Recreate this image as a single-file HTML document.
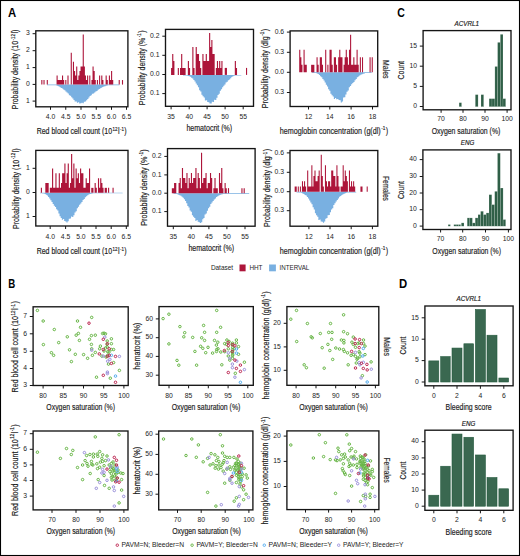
<!DOCTYPE html><html><head><meta charset="utf-8"><style>html,body{margin:0;padding:0;background:#fff;}svg{display:block;}text.t{stroke:#1c1c1c;stroke-width:0.18px;}</style></head><body><svg width="520" height="556" viewBox="0 0 520 556" font-family='"Liberation Sans", sans-serif'>
<rect x="0" y="0" width="520" height="556" fill="#fff"/>
<text x="7.90" y="17.00" font-size="12.6" text-anchor="start" fill="#000" font-weight="bold" textLength="8.2" lengthAdjust="spacingAndGlyphs">A</text>
<text x="8.30" y="287.70" font-size="12.6" text-anchor="start" fill="#000" font-weight="bold" textLength="7.0" lengthAdjust="spacingAndGlyphs">B</text>
<text x="397.30" y="17.10" font-size="12.6" text-anchor="start" fill="#000" font-weight="bold" textLength="7.6" lengthAdjust="spacingAndGlyphs">C</text>
<text x="399.00" y="287.80" font-size="12.6" text-anchor="start" fill="#000" font-weight="bold" textLength="8.2" lengthAdjust="spacingAndGlyphs">D</text>
<path d="M47.00,84.60 L47.00,85.20 L48.15,85.20 L48.15,85.20 L49.30,85.20 L49.30,85.20 L50.45,85.20 L50.45,85.20 L51.60,85.20 L51.60,85.20 L52.75,85.20 L52.75,85.20 L53.90,85.20 L53.90,85.20 L55.05,85.20 L55.05,85.20 L56.20,85.20 L56.20,85.47 L57.35,85.47 L57.35,85.96 L58.50,85.96 L58.50,86.46 L59.65,86.46 L59.65,87.22 L60.80,87.22 L60.80,87.98 L61.95,87.98 L61.95,88.58 L63.10,88.58 L63.10,89.59 L64.25,89.59 L64.25,90.17 L65.40,90.17 L65.40,91.61 L66.55,91.61 L66.55,92.60 L67.70,92.60 L67.70,93.54 L68.85,93.54 L68.85,95.23 L70.00,95.23 L70.00,95.69 L71.15,95.69 L71.15,97.32 L72.30,97.32 L72.30,98.42 L73.45,98.42 L73.45,100.07 L74.60,100.07 L74.60,101.51 L75.75,101.51 L75.75,101.60 L76.90,101.60 L76.90,102.77 L78.05,102.77 L78.05,102.24 L79.20,102.24 L79.20,103.53 L80.35,103.53 L80.35,103.35 L81.50,103.35 L81.50,102.73 L82.65,102.73 L82.65,103.35 L83.80,103.35 L83.80,101.72 L84.95,101.72 L84.95,101.43 L86.10,101.43 L86.10,100.19 L87.25,100.19 L87.25,99.00 L88.40,99.00 L88.40,97.61 L89.55,97.61 L89.55,95.90 L90.70,95.90 L90.70,95.20 L91.85,95.20 L91.85,93.83 L93.00,93.83 L93.00,93.50 L94.15,93.50 L94.15,92.45 L95.30,92.45 L95.30,91.45 L96.45,91.45 L96.45,90.95 L97.60,90.95 L97.60,89.72 L98.75,89.72 L98.75,89.04 L99.90,89.04 L99.90,88.14 L101.05,88.14 L101.05,87.63 L102.20,87.63 L102.20,87.05 L103.35,87.05 L103.35,86.45 L104.50,86.45 L104.50,86.21 L105.65,86.21 L105.65,85.84 L106.80,85.84 L106.80,85.61 L107.95,85.61 L107.95,85.37 L109.10,85.37 L109.10,85.26 L110.25,85.26 L110.25,85.20 L111.40,85.20 L111.40,85.20 L112.55,85.20 L112.55,85.20 L113.70,85.20 L113.70,85.20 L114.85,85.20 L114.85,85.20 L116.00,85.20 L116.00,85.20 L117.15,85.20 L117.15,85.20 L118.30,85.20 L118.30,85.20 L119.45,85.20 L119.30,84.60 Z" fill="#79B0E1"/>
<path d="M41.30,84.60 L41.30,80.05 L42.39,80.05 L42.39,84.60 Z" fill="#AD153A"/>
<path d="M43.48,84.60 L43.48,80.05 L44.57,80.05 L44.57,84.60 Z" fill="#AD153A"/>
<path d="M46.75,84.60 L46.75,80.05 L47.84,80.05 L47.84,84.60 Z" fill="#AD153A"/>
<path d="M56.56,84.60 L56.56,75.50 L57.65,75.50 L57.65,80.05 L58.74,80.05 L58.74,80.05 L59.83,80.05 L59.83,80.05 L60.92,80.05 L60.92,80.05 L62.01,80.05 L62.01,75.50 L63.10,75.50 L63.10,80.05 L64.19,80.05 L64.19,84.60 Z" fill="#AD153A"/>
<path d="M65.28,84.60 L65.28,80.05 L66.37,80.05 L66.37,84.60 Z" fill="#AD153A"/>
<path d="M67.45,84.60 L67.45,75.50 L68.55,75.50 L68.55,84.60 Z" fill="#AD153A"/>
<path d="M70.73,84.60 L70.73,52.75 L71.82,52.75 L71.82,84.60 Z" fill="#AD153A"/>
<path d="M72.91,84.60 L72.91,61.85 L74.00,61.85 L74.00,70.95 L75.09,70.95 L75.09,75.50 L76.18,75.50 L76.18,66.40 L77.27,66.40 L77.27,80.05 L78.36,80.05 L78.36,75.50 L79.45,75.50 L79.45,70.95 L80.54,70.95 L80.54,66.40 L81.63,66.40 L81.62,66.40 L82.72,66.40 L82.72,34.55 L83.81,34.55 L83.81,66.40 L84.90,66.40 L84.90,75.50 L85.99,75.50 L85.98,80.05 L87.08,80.05 L87.08,75.50 L88.17,75.50 L88.17,84.60 Z" fill="#AD153A"/>
<path d="M89.26,84.60 L89.26,75.50 L90.35,75.50 L90.35,84.60 Z" fill="#AD153A"/>
<path d="M91.44,84.60 L91.44,80.05 L92.53,80.05 L92.53,66.40 L93.62,66.40 L93.62,70.95 L94.71,70.95 L94.71,80.05 L95.80,80.05 L95.80,84.60 Z" fill="#AD153A"/>
<path d="M96.89,84.60 L96.89,80.05 L97.98,80.05 L97.98,84.60 Z" fill="#AD153A"/>
<path d="M99.07,84.60 L99.07,75.50 L100.16,75.50 L100.16,84.60 Z" fill="#AD153A"/>
<path d="M101.25,84.60 L101.25,75.50 L102.34,75.50 L102.34,80.05 L103.43,80.05 L103.43,84.60 Z" fill="#AD153A"/>
<path d="M105.61,84.60 L105.61,75.50 L106.70,75.50 L106.70,80.05 L107.79,80.05 L107.79,84.60 Z" fill="#AD153A"/>
<path d="M108.88,84.60 L108.88,75.50 L109.97,75.50 L109.97,80.05 L111.06,80.05 L111.06,70.95 L112.15,70.95 L112.15,80.05 L113.24,80.05 L113.24,84.60 Z" fill="#AD153A"/>
<path d="M118.69,84.60 L118.69,80.05 L119.78,80.05 L119.78,84.60 Z" fill="#AD153A"/>
<path d="M121.96,84.60 L121.96,80.05 L123.05,80.05 L123.05,84.60 Z" fill="#AD153A"/>
<rect x="35.80" y="30.80" width="92.10" height="76.00" fill="none" stroke="#151515" stroke-width="1.35"/>
<line x1="32.60" y1="33.70" x2="35.80" y2="33.70" stroke="#151515" stroke-width="1"/>
<text x="29.80" y="35.45" font-size="6.8" text-anchor="end" fill="#1c1c1c">3</text>
<line x1="32.60" y1="50.70" x2="35.80" y2="50.70" stroke="#151515" stroke-width="1"/>
<text x="29.80" y="52.45" font-size="6.8" text-anchor="end" fill="#1c1c1c">2</text>
<line x1="32.60" y1="67.60" x2="35.80" y2="67.60" stroke="#151515" stroke-width="1"/>
<text x="29.80" y="69.35" font-size="6.8" text-anchor="end" fill="#1c1c1c">1</text>
<line x1="32.60" y1="84.40" x2="35.80" y2="84.40" stroke="#151515" stroke-width="1"/>
<text x="29.80" y="86.15" font-size="6.8" text-anchor="end" fill="#1c1c1c">0</text>
<line x1="32.60" y1="101.10" x2="35.80" y2="101.10" stroke="#151515" stroke-width="1"/>
<text x="29.80" y="102.85" font-size="6.8" text-anchor="end" fill="#1c1c1c">1</text>
<line x1="50.50" y1="106.80" x2="50.50" y2="109.80" stroke="#151515" stroke-width="1"/>
<text x="50.50" y="118.70" font-size="6.8" text-anchor="middle" fill="#1c1c1c">4.0</text>
<line x1="65.75" y1="106.80" x2="65.75" y2="109.80" stroke="#151515" stroke-width="1"/>
<text x="65.75" y="118.70" font-size="6.8" text-anchor="middle" fill="#1c1c1c">4.5</text>
<line x1="81.00" y1="106.80" x2="81.00" y2="109.80" stroke="#151515" stroke-width="1"/>
<text x="81.00" y="118.70" font-size="6.8" text-anchor="middle" fill="#1c1c1c">5.0</text>
<line x1="96.25" y1="106.80" x2="96.25" y2="109.80" stroke="#151515" stroke-width="1"/>
<text x="96.25" y="118.70" font-size="6.8" text-anchor="middle" fill="#1c1c1c">5.5</text>
<line x1="111.50" y1="106.80" x2="111.50" y2="109.80" stroke="#151515" stroke-width="1"/>
<text x="111.50" y="118.70" font-size="6.8" text-anchor="middle" fill="#1c1c1c">6.0</text>
<line x1="126.50" y1="106.80" x2="126.50" y2="109.80" stroke="#151515" stroke-width="1"/>
<text x="126.50" y="118.70" font-size="6.8" text-anchor="middle" fill="#1c1c1c">6.5</text>
<text class="t" transform="translate(18.40,69.50) rotate(-90)" x="0" y="0" font-size="9.6" text-anchor="middle" fill="#1c1c1c" textLength="79.5" lengthAdjust="spacingAndGlyphs">Probability density (10<tspan font-size="6.2" dy="-3.4" dx="0.7">-12</tspan><tspan dy="3.4" dx="0.5">l)</tspan></text>
<text class="t" x="81.70" y="134.20" font-size="9.6" text-anchor="middle" fill="#1c1c1c" textLength="90.0" lengthAdjust="spacingAndGlyphs">Red blood cell count (10<tspan font-size="6.2" dy="-3.4" dx="0.7">12</tspan><tspan dy="3.4" dx="0.5">l</tspan><tspan font-size="6.2" dy="-3.4" dx="0.7">-1</tspan><tspan dy="3.4" dx="0.5">)</tspan></text>
<path d="M183.00,74.90 L183.00,75.50 L184.15,75.50 L184.15,75.50 L185.30,75.50 L185.30,75.50 L186.45,75.50 L186.45,75.60 L187.60,75.60 L187.60,75.95 L188.75,75.95 L188.75,76.23 L189.90,76.23 L189.90,76.72 L191.05,76.72 L191.05,77.71 L192.20,77.71 L192.20,78.50 L193.35,78.50 L193.35,80.10 L194.50,80.10 L194.50,81.48 L195.65,81.48 L195.65,83.38 L196.80,83.38 L196.80,85.22 L197.95,85.22 L197.95,87.17 L199.10,87.17 L199.10,90.24 L200.25,90.24 L200.25,91.58 L201.40,91.58 L201.40,94.67 L202.55,94.67 L202.55,96.16 L203.70,96.16 L203.70,97.45 L204.85,97.45 L204.85,100.44 L206.00,100.44 L206.00,100.32 L207.15,100.32 L207.15,102.10 L208.30,102.10 L208.30,102.28 L209.45,102.28 L209.45,103.56 L210.60,103.56 L210.60,103.59 L211.75,103.59 L211.75,101.78 L212.90,101.78 L212.90,101.98 L214.05,101.98 L214.05,99.63 L215.20,99.63 L215.20,99.99 L216.35,99.99 L216.35,97.66 L217.50,97.66 L217.50,94.94 L218.65,94.94 L218.65,93.79 L219.80,93.79 L219.80,90.64 L220.95,90.64 L220.95,89.23 L222.10,89.23 L222.10,87.30 L223.25,87.30 L223.25,85.87 L224.40,85.87 L224.40,84.49 L225.55,84.49 L225.55,82.60 L226.70,82.60 L226.70,81.68 L227.85,81.68 L227.85,80.23 L229.00,80.23 L229.00,79.38 L230.15,79.38 L230.15,78.14 L231.30,78.14 L231.30,77.10 L232.45,77.10 L232.45,76.34 L233.60,76.34 L233.60,75.67 L234.75,75.67 L234.75,75.55 L235.90,75.55 L235.90,75.50 L237.05,75.50 L237.05,75.50 L238.20,75.50 L238.20,75.50 L239.35,75.50 L239.35,75.50 L240.50,75.50 L240.50,75.50 L241.65,75.50 L241.00,74.90 Z" fill="#79B0E1"/>
<path d="M171.07,74.90 L171.07,67.90 L172.19,67.90 L172.19,53.90 L173.31,53.90 L173.31,60.90 L174.43,60.90 L174.43,74.90 Z" fill="#AD153A"/>
<path d="M177.78,74.90 L177.78,67.90 L178.90,67.90 L178.90,74.90 Z" fill="#AD153A"/>
<path d="M180.02,74.90 L180.02,67.90 L181.14,67.90 L181.14,53.90 L182.25,53.90 L182.25,67.90 L183.37,67.90 L183.37,67.90 L184.49,67.90 L184.49,67.90 L185.61,67.90 L185.61,74.90 Z" fill="#AD153A"/>
<path d="M187.84,74.90 L187.84,60.90 L188.96,60.90 L188.96,67.90 L190.08,67.90 L190.08,74.90 Z" fill="#AD153A"/>
<path d="M192.32,74.90 L192.32,46.90 L193.44,46.90 L193.44,67.90 L194.55,67.90 L194.55,74.90 Z" fill="#AD153A"/>
<path d="M195.67,74.90 L195.67,46.90 L196.79,46.90 L196.79,53.90 L197.91,53.90 L197.91,53.90 L199.03,53.90 L199.03,60.90 L200.14,60.90 L200.14,67.90 L201.26,67.90 L201.26,74.90 Z" fill="#AD153A"/>
<path d="M202.38,74.90 L202.38,53.90 L203.50,53.90 L203.50,60.90 L204.62,60.90 L204.62,60.90 L205.73,60.90 L205.73,53.90 L206.85,53.90 L206.85,60.90 L207.97,60.90 L207.97,60.90 L209.09,60.90 L209.09,32.90 L210.21,32.90 L210.21,46.90 L211.32,46.90 L211.32,39.90 L212.44,39.90 L212.44,53.90 L213.56,53.90 L213.56,53.90 L214.68,53.90 L214.68,74.90 Z" fill="#AD153A"/>
<path d="M215.80,74.90 L215.80,67.90 L216.91,67.90 L216.91,60.90 L218.03,60.90 L218.03,67.90 L219.15,67.90 L219.15,60.90 L220.27,60.90 L220.27,67.90 L221.38,67.90 L221.39,60.90 L222.50,60.90 L222.50,74.90 Z" fill="#AD153A"/>
<path d="M224.74,74.90 L224.74,67.90 L225.86,67.90 L225.86,67.90 L226.97,67.90 L226.97,74.90 Z" fill="#AD153A"/>
<path d="M234.80,74.90 L234.80,60.90 L235.92,60.90 L235.92,67.90 L237.04,67.90 L237.04,74.90 Z" fill="#AD153A"/>
<path d="M245.98,74.90 L245.98,67.90 L247.10,67.90 L247.10,74.90 Z" fill="#AD153A"/>
<rect x="165.50" y="29.40" width="88.00" height="76.90" fill="none" stroke="#151515" stroke-width="1.35"/>
<line x1="162.30" y1="36.20" x2="165.50" y2="36.20" stroke="#151515" stroke-width="1"/>
<text x="159.50" y="37.95" font-size="6.8" text-anchor="end" fill="#1c1c1c">0.2</text>
<line x1="162.30" y1="55.30" x2="165.50" y2="55.30" stroke="#151515" stroke-width="1"/>
<text x="159.50" y="57.05" font-size="6.8" text-anchor="end" fill="#1c1c1c">0.1</text>
<line x1="162.30" y1="74.50" x2="165.50" y2="74.50" stroke="#151515" stroke-width="1"/>
<text x="159.50" y="76.25" font-size="6.8" text-anchor="end" fill="#1c1c1c">0.0</text>
<line x1="162.30" y1="93.60" x2="165.50" y2="93.60" stroke="#151515" stroke-width="1"/>
<text x="159.50" y="95.35" font-size="6.8" text-anchor="end" fill="#1c1c1c">0.1</text>
<line x1="171.10" y1="106.30" x2="171.10" y2="109.30" stroke="#151515" stroke-width="1"/>
<text x="171.10" y="118.70" font-size="6.8" text-anchor="middle" fill="#1c1c1c">35</text>
<line x1="189.20" y1="106.30" x2="189.20" y2="109.30" stroke="#151515" stroke-width="1"/>
<text x="189.20" y="118.70" font-size="6.8" text-anchor="middle" fill="#1c1c1c">40</text>
<line x1="207.10" y1="106.30" x2="207.10" y2="109.30" stroke="#151515" stroke-width="1"/>
<text x="207.10" y="118.70" font-size="6.8" text-anchor="middle" fill="#1c1c1c">45</text>
<line x1="225.10" y1="106.30" x2="225.10" y2="109.30" stroke="#151515" stroke-width="1"/>
<text x="225.10" y="118.70" font-size="6.8" text-anchor="middle" fill="#1c1c1c">50</text>
<line x1="243.20" y1="106.30" x2="243.20" y2="109.30" stroke="#151515" stroke-width="1"/>
<text x="243.20" y="118.70" font-size="6.8" text-anchor="middle" fill="#1c1c1c">55</text>
<text class="t" transform="translate(144.50,67.80) rotate(-90)" x="0" y="0" font-size="9.6" text-anchor="middle" fill="#1c1c1c" textLength="74.8" lengthAdjust="spacingAndGlyphs">Probability density (%<tspan font-size="6.2" dy="-3.4" dx="0.7">-1</tspan><tspan dy="3.4" dx="0.5">)</tspan></text>
<text class="t" x="209.30" y="131.30" font-size="9.6" text-anchor="middle" fill="#1c1c1c" textLength="45.8" lengthAdjust="spacingAndGlyphs">hematocrit (%)</text>
<path d="M312.00,72.30 L312.00,72.90 L313.15,72.90 L313.15,72.90 L314.30,72.90 L314.30,72.90 L315.45,72.90 L315.45,73.12 L316.60,73.12 L316.60,73.58 L317.75,73.58 L317.75,73.95 L318.90,73.95 L318.90,74.93 L320.05,74.93 L320.05,76.28 L321.20,76.28 L321.20,77.32 L322.35,77.32 L322.35,79.02 L323.50,79.02 L323.50,80.50 L324.65,80.50 L324.65,82.61 L325.80,82.61 L325.80,84.81 L326.95,84.81 L326.95,86.46 L328.10,86.46 L328.10,89.30 L329.25,89.30 L329.25,90.68 L330.40,90.68 L330.40,93.85 L331.55,93.85 L331.55,95.32 L332.70,95.32 L332.70,96.39 L333.85,96.39 L333.85,98.95 L335.00,98.95 L335.00,97.98 L336.15,97.98 L336.15,99.28 L337.30,99.28 L337.30,99.05 L338.45,99.05 L338.45,99.91 L339.60,99.91 L339.60,100.35 L340.75,100.35 L340.75,102.39 L341.90,102.39 L341.90,101.56 L343.05,101.56 L343.05,97.44 L344.20,97.44 L344.20,97.36 L345.35,97.36 L345.35,94.56 L346.50,94.56 L346.50,91.83 L347.65,91.83 L347.65,90.47 L348.80,90.47 L348.80,87.35 L349.95,87.35 L349.95,86.07 L351.10,86.07 L351.10,84.26 L352.25,84.26 L352.25,82.98 L353.40,82.98 L353.40,81.90 L354.55,81.90 L354.55,80.20 L355.70,80.20 L355.70,78.91 L356.85,78.91 L356.85,77.29 L358.00,77.29 L358.00,76.43 L359.15,76.43 L359.15,75.50 L360.30,75.50 L360.30,74.68 L361.45,74.68 L361.45,74.21 L362.60,74.21 L362.60,73.73 L363.75,73.73 L363.75,73.42 L364.90,73.42 L364.90,73.04 L366.05,73.04 L366.05,72.91 L367.20,72.91 L367.20,72.90 L368.35,72.90 L368.35,72.90 L369.50,72.90 L369.50,72.90 L370.65,72.90 L370.65,72.90 L371.80,72.90 L371.50,72.30 Z" fill="#79B0E1"/>
<path d="M299.21,72.30 L299.21,49.80 L300.30,49.80 L300.30,57.30 L301.38,57.30 L301.38,64.80 L302.46,64.80 L302.46,72.30 Z" fill="#AD153A"/>
<path d="M303.54,72.30 L303.54,49.80 L304.62,49.80 L304.62,64.80 L305.71,64.80 L305.71,64.80 L306.79,64.80 L306.79,72.30 Z" fill="#AD153A"/>
<path d="M311.12,72.30 L311.12,64.80 L312.20,64.80 L312.20,64.80 L313.28,64.80 L313.28,64.80 L314.36,64.80 L314.36,72.30 Z" fill="#AD153A"/>
<path d="M316.53,72.30 L316.53,57.30 L317.61,57.30 L317.61,64.80 L318.69,64.80 L318.69,72.30 Z" fill="#AD153A"/>
<path d="M319.77,72.30 L319.77,57.30 L320.85,57.30 L320.85,57.30 L321.94,57.30 L321.94,64.80 L323.02,64.80 L323.02,72.30 Z" fill="#AD153A"/>
<path d="M325.18,72.30 L325.18,49.80 L326.26,49.80 L326.26,72.30 Z" fill="#AD153A"/>
<path d="M327.35,72.30 L327.35,64.80 L328.43,64.80 L328.43,72.30 Z" fill="#AD153A"/>
<path d="M329.51,72.30 L329.51,49.80 L330.59,49.80 L330.59,49.80 L331.67,49.80 L331.67,64.80 L332.76,64.80 L332.76,72.30 Z" fill="#AD153A"/>
<path d="M333.84,72.30 L333.84,57.30 L334.92,57.30 L334.92,57.30 L336.00,57.30 L336.00,64.80 L337.08,64.80 L337.08,72.30 Z" fill="#AD153A"/>
<path d="M338.17,72.30 L338.17,57.30 L339.25,57.30 L339.25,49.80 L340.33,49.80 L340.33,57.30 L341.41,57.30 L341.41,57.30 L342.49,57.30 L342.49,72.30 Z" fill="#AD153A"/>
<path d="M343.58,72.30 L343.58,64.80 L344.66,64.80 L344.66,57.30 L345.74,57.30 L345.74,49.80 L346.82,49.80 L346.82,57.30 L347.90,57.30 L347.90,64.80 L348.99,64.80 L348.99,49.80 L350.07,49.80 L350.07,34.80 L351.15,34.80 L351.15,64.80 L352.23,64.80 L352.23,64.80 L353.31,64.80 L353.31,57.30 L354.40,57.30 L354.40,64.80 L355.48,64.80 L355.48,64.80 L356.56,64.80 L356.56,49.80 L357.64,49.80 L357.64,64.80 L358.72,64.80 L358.72,72.30 Z" fill="#AD153A"/>
<path d="M359.81,72.30 L359.81,57.30 L360.89,57.30 L360.89,72.30 Z" fill="#AD153A"/>
<path d="M361.97,72.30 L361.97,57.30 L363.05,57.30 L363.05,72.30 Z" fill="#AD153A"/>
<path d="M369.54,72.30 L369.54,57.30 L370.63,57.30 L370.63,72.30 Z" fill="#AD153A"/>
<path d="M371.71,72.30 L371.71,57.30 L372.79,57.30 L372.79,72.30 Z" fill="#AD153A"/>
<rect x="290.10" y="30.90" width="87.60" height="75.60" fill="none" stroke="#151515" stroke-width="1.35"/>
<line x1="286.90" y1="32.10" x2="290.10" y2="32.10" stroke="#151515" stroke-width="1"/>
<text x="284.10" y="33.85" font-size="6.8" text-anchor="end" fill="#1c1c1c">0.6</text>
<line x1="286.90" y1="52.30" x2="290.10" y2="52.30" stroke="#151515" stroke-width="1"/>
<text x="284.10" y="54.05" font-size="6.8" text-anchor="end" fill="#1c1c1c">0.3</text>
<line x1="286.90" y1="72.30" x2="290.10" y2="72.30" stroke="#151515" stroke-width="1"/>
<text x="284.10" y="74.05" font-size="6.8" text-anchor="end" fill="#1c1c1c">0.0</text>
<line x1="286.90" y1="92.50" x2="290.10" y2="92.50" stroke="#151515" stroke-width="1"/>
<text x="284.10" y="94.25" font-size="6.8" text-anchor="end" fill="#1c1c1c">0.3</text>
<line x1="308.50" y1="106.50" x2="308.50" y2="109.50" stroke="#151515" stroke-width="1"/>
<text x="308.50" y="118.70" font-size="6.8" text-anchor="middle" fill="#1c1c1c">12</text>
<line x1="329.80" y1="106.50" x2="329.80" y2="109.50" stroke="#151515" stroke-width="1"/>
<text x="329.80" y="118.70" font-size="6.8" text-anchor="middle" fill="#1c1c1c">14</text>
<line x1="351.10" y1="106.50" x2="351.10" y2="109.50" stroke="#151515" stroke-width="1"/>
<text x="351.10" y="118.70" font-size="6.8" text-anchor="middle" fill="#1c1c1c">16</text>
<line x1="372.50" y1="106.50" x2="372.50" y2="109.50" stroke="#151515" stroke-width="1"/>
<text x="372.50" y="118.70" font-size="6.8" text-anchor="middle" fill="#1c1c1c">18</text>
<text class="t" transform="translate(267.80,68.60) rotate(-90)" x="0" y="0" font-size="9.6" text-anchor="middle" fill="#1c1c1c" textLength="79.3" lengthAdjust="spacingAndGlyphs">Probability density (dlg<tspan font-size="6.2" dy="-3.4" dx="0.7">-1</tspan><tspan dy="3.4" dx="0.5">)</tspan></text>
<text class="t" x="334.00" y="133.80" font-size="9.6" text-anchor="middle" fill="#1c1c1c" textLength="108.3" lengthAdjust="spacingAndGlyphs">hemoglobin concentration (g(dl)<tspan font-size="6.2" dy="-3.4" dx="0.7">-1</tspan><tspan dy="3.4" dx="0.5">)</tspan></text>
<text class="t" transform="translate(383.4,59.9) rotate(90)" x="0" y="0" font-size="8.3" text-anchor="start" fill="#383838" textLength="18.6" lengthAdjust="spacingAndGlyphs">Males</text>
<path d="M40.00,192.70 L40.00,193.30 L41.15,193.30 L41.15,193.30 L42.30,193.30 L42.30,193.38 L43.45,193.38 L43.45,193.62 L44.60,193.62 L44.60,193.97 L45.75,193.97 L45.75,194.73 L46.90,194.73 L46.90,195.57 L48.05,195.57 L48.05,197.04 L49.20,197.04 L49.20,198.43 L50.35,198.43 L50.35,200.36 L51.50,200.36 L51.50,201.94 L52.65,201.94 L52.65,203.91 L53.80,203.91 L53.80,205.81 L54.95,205.81 L54.95,206.89 L56.10,206.89 L56.10,209.27 L57.25,209.27 L57.25,210.39 L58.40,210.39 L58.40,213.61 L59.55,213.61 L59.55,216.33 L60.70,216.33 L60.70,218.03 L61.85,218.03 L61.85,219.80 L63.00,219.80 L63.00,218.94 L64.15,218.94 L64.15,221.10 L65.30,221.10 L65.30,221.61 L66.45,221.61 L66.45,222.56 L67.60,222.56 L67.60,221.30 L68.75,221.30 L68.75,218.74 L69.90,218.74 L69.90,218.56 L71.05,218.56 L71.05,216.51 L72.20,216.51 L72.20,217.05 L73.35,217.05 L73.35,215.25 L74.50,215.25 L74.50,212.48 L75.65,212.48 L75.65,211.30 L76.80,211.30 L76.80,208.19 L77.95,208.19 L77.95,206.75 L79.10,206.75 L79.10,204.85 L80.25,204.85 L80.25,203.42 L81.40,203.42 L81.40,201.97 L82.55,201.97 L82.55,200.10 L83.70,200.10 L83.70,198.91 L84.85,198.91 L84.85,197.25 L86.00,197.25 L86.00,196.14 L87.15,196.14 L87.15,195.33 L88.30,195.33 L88.30,194.56 L89.45,194.56 L89.45,193.99 L90.60,193.99 L90.60,193.64 L91.75,193.64 L91.75,193.39 L92.90,193.39 L92.90,193.30 L94.05,193.30 L94.05,193.30 L95.20,193.30 L95.20,193.30 L96.35,193.30 L96.35,193.30 L97.50,193.30 L97.50,193.30 L98.65,193.30 L98.65,193.30 L99.80,193.30 L99.80,193.30 L100.95,193.30 L100.95,193.30 L102.10,193.30 L102.10,193.30 L103.25,193.30 L103.25,193.30 L104.40,193.30 L104.40,193.30 L105.55,193.30 L105.55,193.30 L106.70,193.30 L106.70,193.30 L107.85,193.30 L107.85,193.30 L109.00,193.30 L109.00,193.30 L110.15,193.30 L110.15,193.30 L111.30,193.30 L111.30,193.30 L112.45,193.30 L112.45,193.30 L113.60,193.30 L113.60,193.30 L114.75,193.30 L114.75,193.30 L115.90,193.30 L115.90,193.30 L117.05,193.30 L117.05,193.30 L118.20,193.30 L118.20,193.30 L119.35,193.30 L119.35,193.30 L120.50,193.30 L120.50,193.30 L121.65,193.30 L121.65,193.30 L122.80,193.30 L122.50,192.70 Z" fill="#79B0E1"/>
<path d="M40.84,192.70 L40.84,187.85 L41.96,187.85 L41.96,192.70 Z" fill="#AD153A"/>
<path d="M45.32,192.70 L45.32,183.00 L46.44,183.00 L46.44,183.00 L47.56,183.00 L47.56,183.00 L48.68,183.00 L48.68,192.70 Z" fill="#AD153A"/>
<path d="M49.80,192.70 L49.80,187.85 L50.92,187.85 L50.92,187.85 L52.04,187.85 L52.04,168.45 L53.16,168.45 L53.16,187.85 L54.28,187.85 L54.28,187.85 L55.40,187.85 L55.40,173.30 L56.52,173.30 L56.52,187.85 L57.64,187.85 L57.64,187.85 L58.76,187.85 L58.76,173.30 L59.88,173.30 L59.88,187.85 L61.00,187.85 L61.00,183.00 L62.12,183.00 L62.12,173.30 L63.24,173.30 L63.24,173.30 L64.36,173.30 L64.36,163.60 L65.48,163.60 L65.48,183.00 L66.60,183.00 L66.60,173.30 L67.72,173.30 L67.72,163.60 L68.84,163.60 L68.84,187.85 L69.96,187.85 L69.96,183.00 L71.08,183.00 L71.08,153.90 L72.20,153.90 L72.20,178.15 L73.32,178.15 L73.32,163.60 L74.44,163.60 L74.44,187.85 L75.56,187.85 L75.56,168.45 L76.68,168.45 L76.68,178.15 L77.80,178.15 L77.80,173.30 L78.92,173.30 L78.92,183.00 L80.04,183.00 L80.04,168.45 L81.16,168.45 L81.16,173.30 L82.28,173.30 L82.28,173.30 L83.40,173.30 L83.40,187.85 L84.52,187.85 L84.52,187.85 L85.64,187.85 L85.64,178.15 L86.76,178.15 L86.76,183.00 L87.88,183.00 L87.88,183.00 L89.00,183.00 L89.00,168.45 L90.12,168.45 L90.12,192.70 Z" fill="#AD153A"/>
<path d="M91.24,192.70 L91.24,187.85 L92.36,187.85 L92.36,187.85 L93.48,187.85 L93.48,192.70 Z" fill="#AD153A"/>
<path d="M94.60,192.70 L94.60,183.00 L95.72,183.00 L95.72,187.85 L96.84,187.85 L96.84,192.70 Z" fill="#AD153A"/>
<path d="M97.96,192.70 L97.96,178.15 L99.08,178.15 L99.08,187.85 L100.20,187.85 L100.20,178.15 L101.32,178.15 L101.32,183.00 L102.44,183.00 L102.44,187.85 L103.56,187.85 L103.56,192.70 Z" fill="#AD153A"/>
<path d="M104.68,192.70 L104.68,187.85 L105.80,187.85 L105.80,187.85 L106.92,187.85 L106.92,192.70 Z" fill="#AD153A"/>
<path d="M108.04,192.70 L108.04,187.85 L109.16,187.85 L109.16,192.70 Z" fill="#AD153A"/>
<path d="M112.52,192.70 L112.52,187.85 L113.64,187.85 L113.64,192.70 Z" fill="#AD153A"/>
<rect x="35.80" y="150.40" width="92.20" height="75.60" fill="none" stroke="#151515" stroke-width="1.35"/>
<line x1="32.60" y1="168.30" x2="35.80" y2="168.30" stroke="#151515" stroke-width="1"/>
<text x="29.80" y="170.05" font-size="6.8" text-anchor="end" fill="#1c1c1c">1</text>
<line x1="32.60" y1="192.50" x2="35.80" y2="192.50" stroke="#151515" stroke-width="1"/>
<text x="29.80" y="194.25" font-size="6.8" text-anchor="end" fill="#1c1c1c">0</text>
<line x1="32.60" y1="216.50" x2="35.80" y2="216.50" stroke="#151515" stroke-width="1"/>
<text x="29.80" y="218.25" font-size="6.8" text-anchor="end" fill="#1c1c1c">1</text>
<line x1="50.20" y1="226.00" x2="50.20" y2="229.00" stroke="#151515" stroke-width="1"/>
<text x="50.20" y="238.60" font-size="6.8" text-anchor="middle" fill="#1c1c1c">4.0</text>
<line x1="65.60" y1="226.00" x2="65.60" y2="229.00" stroke="#151515" stroke-width="1"/>
<text x="65.60" y="238.60" font-size="6.8" text-anchor="middle" fill="#1c1c1c">4.5</text>
<line x1="80.90" y1="226.00" x2="80.90" y2="229.00" stroke="#151515" stroke-width="1"/>
<text x="80.90" y="238.60" font-size="6.8" text-anchor="middle" fill="#1c1c1c">5.0</text>
<line x1="96.00" y1="226.00" x2="96.00" y2="229.00" stroke="#151515" stroke-width="1"/>
<text x="96.00" y="238.60" font-size="6.8" text-anchor="middle" fill="#1c1c1c">5.5</text>
<line x1="111.20" y1="226.00" x2="111.20" y2="229.00" stroke="#151515" stroke-width="1"/>
<text x="111.20" y="238.60" font-size="6.8" text-anchor="middle" fill="#1c1c1c">6.0</text>
<line x1="126.30" y1="226.00" x2="126.30" y2="229.00" stroke="#151515" stroke-width="1"/>
<text x="126.30" y="238.60" font-size="6.8" text-anchor="middle" fill="#1c1c1c">6.5</text>
<text class="t" transform="translate(18.50,188.70) rotate(-90)" x="0" y="0" font-size="9.6" text-anchor="middle" fill="#1c1c1c" textLength="80.5" lengthAdjust="spacingAndGlyphs">Probability density (10<tspan font-size="6.2" dy="-3.4" dx="0.7">-12</tspan><tspan dy="3.4" dx="0.5">l)</tspan></text>
<text class="t" x="81.70" y="254.00" font-size="9.6" text-anchor="middle" fill="#1c1c1c" textLength="90.0" lengthAdjust="spacingAndGlyphs">Red blood cell count (10<tspan font-size="6.2" dy="-3.4" dx="0.7">12</tspan><tspan dy="3.4" dx="0.5">l</tspan><tspan font-size="6.2" dy="-3.4" dx="0.7">-1</tspan><tspan dy="3.4" dx="0.5">)</tspan></text>
<path d="M173.50,193.30 L173.50,193.90 L174.65,193.90 L174.65,193.90 L175.80,193.90 L175.80,194.06 L176.95,194.06 L176.95,194.32 L178.10,194.32 L178.10,194.70 L179.25,194.70 L179.25,195.24 L180.40,195.24 L180.40,195.79 L181.55,195.79 L181.55,196.84 L182.70,196.84 L182.70,197.70 L183.85,197.70 L183.85,199.14 L185.00,199.14 L185.00,201.00 L186.15,201.00 L186.15,203.37 L187.30,203.37 L187.30,205.90 L188.45,205.90 L188.45,207.56 L189.60,207.56 L189.60,210.40 L190.75,210.40 L190.75,211.78 L191.90,211.78 L191.90,215.20 L193.05,215.20 L193.05,216.74 L194.20,216.74 L194.20,217.96 L195.35,217.96 L195.35,220.88 L196.50,220.88 L196.50,220.12 L197.65,220.12 L197.65,221.83 L198.80,221.83 L198.80,222.19 L199.95,222.19 L199.95,222.88 L201.10,222.88 L201.10,222.33 L202.25,222.33 L202.25,219.15 L203.40,219.15 L203.40,218.10 L204.55,218.10 L204.55,214.61 L205.70,214.61 L205.70,213.54 L206.85,213.54 L206.85,210.84 L208.00,210.84 L208.00,208.22 L209.15,208.22 L209.15,206.67 L210.30,206.67 L210.30,203.93 L211.45,203.93 L211.45,202.48 L212.60,202.48 L212.60,200.90 L213.75,200.90 L213.75,199.62 L214.90,199.62 L214.90,198.48 L216.05,198.48 L216.05,197.10 L217.20,197.10 L217.20,196.35 L218.35,196.35 L218.35,195.55 L219.50,195.55 L219.50,194.99 L220.65,194.99 L220.65,194.54 L221.80,194.54 L221.80,194.26 L222.95,194.26 L222.95,194.05 L224.10,194.05 L224.10,193.90 L225.25,193.90 L225.25,193.90 L226.40,193.90 L226.40,193.90 L227.55,193.90 L227.55,193.90 L228.70,193.90 L228.70,193.90 L229.85,193.90 L229.85,193.90 L231.00,193.90 L231.00,193.90 L232.15,193.90 L232.15,193.90 L233.30,193.90 L233.30,193.90 L234.45,193.90 L234.45,193.90 L235.60,193.90 L235.60,193.90 L236.75,193.90 L236.75,193.90 L237.90,193.90 L237.90,193.90 L239.05,193.90 L239.05,193.90 L240.20,193.90 L240.20,193.90 L241.35,193.90 L241.35,193.90 L242.50,193.90 L242.50,193.90 L243.65,193.90 L243.65,193.90 L244.80,193.90 L244.80,193.90 L245.95,193.90 L245.95,193.90 L247.10,193.90 L247.10,193.90 L248.25,193.90 L248.25,193.90 L249.40,193.90 L249.00,193.30 Z" fill="#79B0E1"/>
<path d="M171.83,193.20 L171.83,188.15 L172.95,188.15 L172.95,188.15 L174.07,188.15 L174.07,183.10 L175.19,183.10 L175.19,183.10 L176.31,183.10 L176.31,193.20 Z" fill="#AD153A"/>
<path d="M178.56,193.20 L178.56,183.10 L179.68,183.10 L179.68,178.05 L180.80,178.05 L180.80,188.15 L181.92,188.15 L181.92,167.95 L183.05,167.95 L183.05,178.05 L184.17,178.05 L184.17,178.05 L185.29,178.05 L185.29,183.10 L186.41,183.10 L186.41,173.00 L187.53,173.00 L187.53,188.15 L188.66,188.15 L188.66,178.05 L189.78,178.05 L189.78,183.10 L190.90,183.10 L190.90,173.00 L192.02,173.00 L192.02,183.10 L193.14,183.10 L193.14,178.05 L194.27,178.05 L194.27,178.05 L195.39,178.05 L195.39,167.95 L196.51,167.95 L196.51,188.15 L197.63,188.15 L197.63,173.00 L198.75,173.00 L198.75,178.05 L199.88,178.05 L199.88,188.15 L201.00,188.15 L201.00,152.80 L202.12,152.80 L202.12,183.10 L203.24,183.10 L203.24,178.05 L204.36,178.05 L204.36,178.05 L205.49,178.05 L205.49,173.00 L206.61,173.00 L206.61,188.15 L207.73,188.15 L207.73,183.10 L208.85,183.10 L208.85,183.10 L209.97,183.10 L209.97,173.00 L211.10,173.00 L211.09,178.05 L212.22,178.05 L212.22,193.20 Z" fill="#AD153A"/>
<path d="M213.34,193.20 L213.34,188.15 L214.46,188.15 L214.46,178.05 L215.58,178.05 L215.58,188.15 L216.71,188.15 L216.71,188.15 L217.83,188.15 L217.83,193.20 Z" fill="#AD153A"/>
<path d="M218.95,193.20 L218.95,173.00 L220.07,173.00 L220.07,183.10 L221.19,183.10 L221.19,167.95 L222.32,167.95 L222.32,188.15 L223.44,188.15 L223.44,193.20 Z" fill="#AD153A"/>
<path d="M224.56,193.20 L224.56,183.10 L225.68,183.10 L225.68,188.15 L226.80,188.15 L226.80,193.20 Z" fill="#AD153A"/>
<path d="M227.93,193.20 L227.93,188.15 L229.05,188.15 L229.05,193.20 Z" fill="#AD153A"/>
<path d="M241.39,193.20 L241.39,188.15 L242.51,188.15 L242.51,193.20 Z" fill="#AD153A"/>
<path d="M243.63,193.20 L243.63,188.15 L244.76,188.15 L244.76,193.20 Z" fill="#AD153A"/>
<rect x="167.50" y="148.60" width="87.60" height="77.60" fill="none" stroke="#151515" stroke-width="1.35"/>
<line x1="164.30" y1="156.40" x2="167.50" y2="156.40" stroke="#151515" stroke-width="1"/>
<text x="161.50" y="158.15" font-size="6.8" text-anchor="end" fill="#1c1c1c">0.2</text>
<line x1="164.30" y1="174.90" x2="167.50" y2="174.90" stroke="#151515" stroke-width="1"/>
<text x="161.50" y="176.65" font-size="6.8" text-anchor="end" fill="#1c1c1c">0.1</text>
<line x1="164.30" y1="193.20" x2="167.50" y2="193.20" stroke="#151515" stroke-width="1"/>
<text x="161.50" y="194.95" font-size="6.8" text-anchor="end" fill="#1c1c1c">0.0</text>
<line x1="164.30" y1="211.60" x2="167.50" y2="211.60" stroke="#151515" stroke-width="1"/>
<text x="161.50" y="213.35" font-size="6.8" text-anchor="end" fill="#1c1c1c">0.1</text>
<line x1="173.30" y1="226.20" x2="173.30" y2="229.20" stroke="#151515" stroke-width="1"/>
<text x="173.30" y="238.60" font-size="6.8" text-anchor="middle" fill="#1c1c1c">35</text>
<line x1="191.20" y1="226.20" x2="191.20" y2="229.20" stroke="#151515" stroke-width="1"/>
<text x="191.20" y="238.60" font-size="6.8" text-anchor="middle" fill="#1c1c1c">40</text>
<line x1="208.90" y1="226.20" x2="208.90" y2="229.20" stroke="#151515" stroke-width="1"/>
<text x="208.90" y="238.60" font-size="6.8" text-anchor="middle" fill="#1c1c1c">45</text>
<line x1="226.90" y1="226.20" x2="226.90" y2="229.20" stroke="#151515" stroke-width="1"/>
<text x="226.90" y="238.60" font-size="6.8" text-anchor="middle" fill="#1c1c1c">50</text>
<line x1="245.00" y1="226.20" x2="245.00" y2="229.20" stroke="#151515" stroke-width="1"/>
<text x="245.00" y="238.60" font-size="6.8" text-anchor="middle" fill="#1c1c1c">55</text>
<text class="t" transform="translate(146.50,187.50) rotate(-90)" x="0" y="0" font-size="9.6" text-anchor="middle" fill="#1c1c1c" textLength="76.5" lengthAdjust="spacingAndGlyphs">Probability density (%<tspan font-size="6.2" dy="-3.4" dx="0.7">-1</tspan><tspan dy="3.4" dx="0.5">)</tspan></text>
<text class="t" x="211.30" y="251.00" font-size="9.6" text-anchor="middle" fill="#1c1c1c" textLength="45.8" lengthAdjust="spacingAndGlyphs">hematocrit (%)</text>
<path d="M296.50,191.80 L296.50,192.40 L297.65,192.40 L297.65,192.40 L298.80,192.40 L298.80,192.41 L299.95,192.41 L299.95,192.54 L301.10,192.54 L301.10,192.87 L302.25,192.87 L302.25,193.45 L303.40,193.45 L303.40,194.00 L304.55,194.00 L304.55,194.98 L305.70,194.98 L305.70,195.61 L306.85,195.61 L306.85,197.00 L308.00,197.00 L308.00,198.46 L309.15,198.46 L309.15,200.50 L310.30,200.50 L310.30,202.56 L311.45,202.56 L311.45,204.24 L312.60,204.24 L312.60,207.17 L313.75,207.17 L313.75,209.41 L314.90,209.41 L314.90,213.27 L316.05,213.27 L316.05,215.17 L317.20,215.17 L317.20,216.71 L318.35,216.71 L318.35,220.11 L319.50,220.11 L319.50,219.47 L320.65,219.47 L320.65,221.49 L321.80,221.49 L321.80,221.75 L322.95,221.75 L322.95,222.63 L324.10,222.63 L324.10,221.55 L325.25,221.55 L325.25,218.64 L326.40,218.64 L326.40,218.02 L327.55,218.02 L327.55,215.23 L328.70,215.23 L328.70,214.93 L329.85,214.93 L329.85,212.25 L331.00,212.25 L331.00,209.58 L332.15,209.58 L332.15,208.18 L333.30,208.18 L333.30,204.91 L334.45,204.91 L334.45,203.37 L335.60,203.37 L335.60,201.46 L336.75,201.46 L336.75,199.98 L337.90,199.98 L337.90,198.57 L339.05,198.57 L339.05,196.82 L340.20,196.82 L340.20,195.99 L341.35,195.99 L341.35,194.91 L342.50,194.91 L342.50,194.18 L343.65,194.18 L343.65,193.64 L344.80,193.64 L344.80,193.14 L345.95,193.14 L345.95,192.72 L347.10,192.72 L347.10,192.40 L348.25,192.40 L348.25,192.40 L349.40,192.40 L349.40,192.40 L350.55,192.40 L350.55,192.40 L351.70,192.40 L351.70,192.40 L352.85,192.40 L352.85,192.40 L354.00,192.40 L354.00,192.40 L355.15,192.40 L355.15,192.40 L356.30,192.40 L356.00,191.80 Z" fill="#79B0E1"/>
<path d="M294.65,191.80 L294.65,186.50 L295.69,186.50 L295.69,186.50 L296.73,186.50 L296.73,191.80 Z" fill="#AD153A"/>
<path d="M297.78,191.80 L297.78,186.50 L298.82,186.50 L298.82,191.80 Z" fill="#AD153A"/>
<path d="M299.87,191.80 L299.87,186.50 L300.91,186.50 L300.91,191.80 Z" fill="#AD153A"/>
<path d="M301.95,191.80 L301.95,181.20 L303.00,181.20 L303.00,186.50 L304.04,186.50 L304.04,181.20 L305.09,181.20 L305.09,186.50 L306.13,186.50 L306.13,191.80 Z" fill="#AD153A"/>
<path d="M307.17,191.80 L307.17,170.60 L308.22,170.60 L308.22,186.50 L309.26,186.50 L309.26,186.50 L310.31,186.50 L310.31,186.50 L311.35,186.50 L311.35,165.30 L312.39,165.30 L312.39,186.50 L313.44,186.50 L313.44,175.90 L314.48,175.90 L314.48,170.60 L315.53,170.60 L315.53,181.20 L316.57,181.20 L316.57,181.20 L317.61,181.20 L317.61,175.90 L318.66,175.90 L318.66,170.60 L319.70,170.60 L319.70,191.80 Z" fill="#AD153A"/>
<path d="M320.75,191.80 L320.75,154.70 L321.79,154.70 L321.79,175.90 L322.83,175.90 L322.83,186.50 L323.88,186.50 L323.88,191.80 Z" fill="#AD153A"/>
<path d="M324.92,191.80 L324.92,165.30 L325.97,165.30 L325.97,181.20 L327.01,181.20 L327.01,186.50 L328.05,186.50 L328.05,181.20 L329.10,181.20 L329.10,181.20 L330.14,181.20 L330.14,186.50 L331.19,186.50 L331.19,170.60 L332.23,170.60 L332.23,170.60 L333.27,170.60 L333.27,175.90 L334.32,175.90 L334.32,175.90 L335.36,175.90 L335.36,186.50 L336.41,186.50 L336.41,165.30 L337.45,165.30 L337.45,175.90 L338.49,175.90 L338.49,186.50 L339.54,186.50 L339.54,191.80 Z" fill="#AD153A"/>
<path d="M340.58,191.80 L340.58,186.50 L341.63,186.50 L341.63,186.50 L342.67,186.50 L342.67,165.30 L343.71,165.30 L343.71,181.20 L344.76,181.20 L344.76,170.60 L345.80,170.60 L345.80,175.90 L346.85,175.90 L346.85,181.20 L347.89,181.20 L347.89,191.80 Z" fill="#AD153A"/>
<path d="M348.93,191.80 L348.93,170.60 L349.98,170.60 L349.98,186.50 L351.02,186.50 L351.02,181.20 L352.07,181.20 L352.07,186.50 L353.11,186.50 L353.11,181.20 L354.15,181.20 L354.15,186.50 L355.20,186.50 L355.20,191.80 Z" fill="#AD153A"/>
<path d="M360.42,191.80 L360.42,186.50 L361.46,186.50 L361.46,186.50 L362.51,186.50 L362.51,191.80 Z" fill="#AD153A"/>
<path d="M366.68,191.80 L366.68,186.50 L367.73,186.50 L367.73,191.80 Z" fill="#AD153A"/>
<rect x="290.00" y="150.50" width="87.80" height="75.70" fill="none" stroke="#151515" stroke-width="1.35"/>
<line x1="286.80" y1="152.90" x2="290.00" y2="152.90" stroke="#151515" stroke-width="1"/>
<text x="284.00" y="154.65" font-size="6.8" text-anchor="end" fill="#1c1c1c">0.6</text>
<line x1="286.80" y1="172.30" x2="290.00" y2="172.30" stroke="#151515" stroke-width="1"/>
<text x="284.00" y="174.05" font-size="6.8" text-anchor="end" fill="#1c1c1c">0.3</text>
<line x1="286.80" y1="191.70" x2="290.00" y2="191.70" stroke="#151515" stroke-width="1"/>
<text x="284.00" y="193.45" font-size="6.8" text-anchor="end" fill="#1c1c1c">0.0</text>
<line x1="286.80" y1="210.70" x2="290.00" y2="210.70" stroke="#151515" stroke-width="1"/>
<text x="284.00" y="212.45" font-size="6.8" text-anchor="end" fill="#1c1c1c">0.3</text>
<line x1="308.90" y1="226.20" x2="308.90" y2="229.20" stroke="#151515" stroke-width="1"/>
<text x="308.90" y="238.60" font-size="6.8" text-anchor="middle" fill="#1c1c1c">12</text>
<line x1="330.00" y1="226.20" x2="330.00" y2="229.20" stroke="#151515" stroke-width="1"/>
<text x="330.00" y="238.60" font-size="6.8" text-anchor="middle" fill="#1c1c1c">14</text>
<line x1="351.20" y1="226.20" x2="351.20" y2="229.20" stroke="#151515" stroke-width="1"/>
<text x="351.20" y="238.60" font-size="6.8" text-anchor="middle" fill="#1c1c1c">16</text>
<line x1="372.40" y1="226.20" x2="372.40" y2="229.20" stroke="#151515" stroke-width="1"/>
<text x="372.40" y="238.60" font-size="6.8" text-anchor="middle" fill="#1c1c1c">18</text>
<text class="t" transform="translate(269.90,188.00) rotate(-90)" x="0" y="0" font-size="9.6" text-anchor="middle" fill="#1c1c1c" textLength="78.0" lengthAdjust="spacingAndGlyphs">Probability density (dlg<tspan font-size="6.2" dy="-3.4" dx="0.7">-1</tspan><tspan dy="3.4" dx="0.5">)</tspan></text>
<text class="t" x="334.00" y="253.60" font-size="9.6" text-anchor="middle" fill="#1c1c1c" textLength="108.3" lengthAdjust="spacingAndGlyphs">hemoglobin concentration (g(dl)<tspan font-size="6.2" dy="-3.4" dx="0.7">-1</tspan><tspan dy="3.4" dx="0.5">)</tspan></text>
<text class="t" transform="translate(383.1,176.0) rotate(90)" x="0" y="0" font-size="8.3" text-anchor="start" fill="#383838" textLength="24.8" lengthAdjust="spacingAndGlyphs">Females</text>
<text x="210.90" y="270.00" font-size="6.6" text-anchor="start" fill="#1c1c1c" textLength="22.2" lengthAdjust="spacingAndGlyphs">Dataset</text>
<rect x="239.5" y="264.5" width="6.1" height="6.8" fill="#AD153A"/>
<text x="249.40" y="270.00" font-size="6.6" text-anchor="start" fill="#1c1c1c" textLength="13.1" lengthAdjust="spacingAndGlyphs">HHT</text>
<rect x="269.1" y="264.5" width="6.8" height="6.8" fill="#79B0E1"/>
<text x="279.50" y="270.00" font-size="6.6" text-anchor="start" fill="#1c1c1c" textLength="29.8" lengthAdjust="spacingAndGlyphs">INTERVAL</text>
<circle cx="37.4" cy="310.4" r="1.25" fill="none" stroke="#66B544" stroke-width="1.0"/>
<circle cx="43.2" cy="321.0" r="1.25" fill="none" stroke="#66B544" stroke-width="1.0"/>
<circle cx="54.3" cy="329.5" r="1.25" fill="none" stroke="#66B544" stroke-width="1.0"/>
<circle cx="43.4" cy="344.6" r="1.25" fill="none" stroke="#66B544" stroke-width="1.0"/>
<circle cx="58.7" cy="342.6" r="1.25" fill="none" stroke="#66B544" stroke-width="1.0"/>
<circle cx="51.4" cy="352.7" r="1.25" fill="none" stroke="#66B544" stroke-width="1.0"/>
<circle cx="53.6" cy="355.3" r="1.25" fill="none" stroke="#66B544" stroke-width="1.0"/>
<circle cx="67.3" cy="336.8" r="1.25" fill="none" stroke="#66B544" stroke-width="1.0"/>
<circle cx="69.5" cy="349.8" r="1.25" fill="none" stroke="#66B544" stroke-width="1.0"/>
<circle cx="71.4" cy="361.6" r="1.25" fill="none" stroke="#66B544" stroke-width="1.0"/>
<circle cx="75.3" cy="354.3" r="1.25" fill="none" stroke="#66B544" stroke-width="1.0"/>
<circle cx="77.5" cy="321.0" r="1.25" fill="none" stroke="#66B544" stroke-width="1.0"/>
<circle cx="76.2" cy="335.2" r="1.25" fill="none" stroke="#66B544" stroke-width="1.0"/>
<circle cx="78.4" cy="333.4" r="1.25" fill="none" stroke="#66B544" stroke-width="1.0"/>
<circle cx="79.4" cy="340.4" r="1.25" fill="none" stroke="#66B544" stroke-width="1.0"/>
<circle cx="80.5" cy="327.3" r="1.25" fill="none" stroke="#66B544" stroke-width="1.0"/>
<circle cx="91.7" cy="317.4" r="1.25" fill="none" stroke="#66B544" stroke-width="1.0"/>
<circle cx="91.4" cy="335.6" r="1.25" fill="none" stroke="#66B544" stroke-width="1.0"/>
<circle cx="95.3" cy="335.2" r="1.25" fill="none" stroke="#66B544" stroke-width="1.0"/>
<circle cx="89.5" cy="339.3" r="1.25" fill="none" stroke="#66B544" stroke-width="1.0"/>
<circle cx="91.4" cy="344.4" r="1.25" fill="none" stroke="#66B544" stroke-width="1.0"/>
<circle cx="102.6" cy="333.5" r="1.25" fill="none" stroke="#66B544" stroke-width="1.0"/>
<circle cx="104.0" cy="333.2" r="1.25" fill="none" stroke="#66B544" stroke-width="1.0"/>
<circle cx="105.5" cy="333.8" r="1.25" fill="none" stroke="#66B544" stroke-width="1.0"/>
<circle cx="111.4" cy="338.8" r="1.25" fill="none" stroke="#66B544" stroke-width="1.0"/>
<circle cx="111.4" cy="343.7" r="1.25" fill="none" stroke="#66B544" stroke-width="1.0"/>
<circle cx="100.4" cy="346.1" r="1.25" fill="none" stroke="#66B544" stroke-width="1.0"/>
<circle cx="83.6" cy="354.6" r="1.25" fill="none" stroke="#66B544" stroke-width="1.0"/>
<circle cx="87.6" cy="358.3" r="1.25" fill="none" stroke="#66B544" stroke-width="1.0"/>
<circle cx="91.7" cy="348.8" r="1.25" fill="none" stroke="#66B544" stroke-width="1.0"/>
<circle cx="92.4" cy="355.3" r="1.25" fill="none" stroke="#66B544" stroke-width="1.0"/>
<circle cx="95.3" cy="352.4" r="1.25" fill="none" stroke="#66B544" stroke-width="1.0"/>
<circle cx="99.7" cy="348.8" r="1.25" fill="none" stroke="#66B544" stroke-width="1.0"/>
<circle cx="101.9" cy="356.1" r="1.25" fill="none" stroke="#66B544" stroke-width="1.0"/>
<circle cx="105.5" cy="348.0" r="1.25" fill="none" stroke="#66B544" stroke-width="1.0"/>
<circle cx="107.0" cy="344.4" r="1.25" fill="none" stroke="#66B544" stroke-width="1.0"/>
<circle cx="107.7" cy="351.7" r="1.25" fill="none" stroke="#66B544" stroke-width="1.0"/>
<circle cx="107.7" cy="355.3" r="1.25" fill="none" stroke="#66B544" stroke-width="1.0"/>
<circle cx="111.4" cy="349.5" r="1.25" fill="none" stroke="#66B544" stroke-width="1.0"/>
<circle cx="113.6" cy="349.5" r="1.25" fill="none" stroke="#66B544" stroke-width="1.0"/>
<circle cx="108.5" cy="364.1" r="1.25" fill="none" stroke="#66B544" stroke-width="1.0"/>
<circle cx="113.6" cy="362.6" r="1.25" fill="none" stroke="#66B544" stroke-width="1.0"/>
<circle cx="119.4" cy="370.4" r="1.25" fill="none" stroke="#66B544" stroke-width="1.0"/>
<circle cx="96.5" cy="377.2" r="1.25" fill="none" stroke="#66B544" stroke-width="1.0"/>
<circle cx="110.3" cy="378.2" r="1.25" fill="none" stroke="#66B544" stroke-width="1.0"/>
<circle cx="107.2" cy="341.0" r="1.25" fill="none" stroke="#66B544" stroke-width="1.0"/>
<circle cx="107.2" cy="347.0" r="1.25" fill="none" stroke="#66B544" stroke-width="1.0"/>
<circle cx="109.0" cy="352.0" r="1.25" fill="none" stroke="#66B544" stroke-width="1.0"/>
<circle cx="104.0" cy="351.0" r="1.25" fill="none" stroke="#66B544" stroke-width="1.0"/>
<circle cx="106.0" cy="357.0" r="1.25" fill="none" stroke="#66B544" stroke-width="1.0"/>
<circle cx="104.8" cy="337.1" r="1.25" fill="none" stroke="#9A90DA" stroke-width="1.0"/>
<circle cx="91.7" cy="350.2" r="1.25" fill="none" stroke="#9A90DA" stroke-width="1.0"/>
<circle cx="103.3" cy="356.1" r="1.25" fill="none" stroke="#9A90DA" stroke-width="1.0"/>
<circle cx="119.4" cy="356.4" r="1.25" fill="none" stroke="#9A90DA" stroke-width="1.0"/>
<circle cx="107.7" cy="361.2" r="1.25" fill="none" stroke="#9A90DA" stroke-width="1.0"/>
<circle cx="109.9" cy="359.3" r="1.25" fill="none" stroke="#9A90DA" stroke-width="1.0"/>
<circle cx="107.4" cy="372.1" r="1.25" fill="none" stroke="#9A90DA" stroke-width="1.0"/>
<circle cx="107.4" cy="373.6" r="1.25" fill="none" stroke="#9A90DA" stroke-width="1.0"/>
<circle cx="111.4" cy="355.3" r="1.25" fill="none" stroke="#52ACEE" stroke-width="1.0"/>
<circle cx="115.5" cy="376.1" r="1.25" fill="none" stroke="#52ACEE" stroke-width="1.0"/>
<circle cx="89.0" cy="323.2" r="1.25" fill="none" stroke="#BC2550" stroke-width="1.0"/>
<circle cx="103.3" cy="339.3" r="1.25" fill="none" stroke="#BC2550" stroke-width="1.0"/>
<circle cx="107.4" cy="343.7" r="1.25" fill="none" stroke="#BC2550" stroke-width="1.0"/>
<circle cx="103.3" cy="349.5" r="1.25" fill="none" stroke="#BC2550" stroke-width="1.0"/>
<circle cx="99.3" cy="353.9" r="1.25" fill="none" stroke="#BC2550" stroke-width="1.0"/>
<circle cx="109.2" cy="348.8" r="1.25" fill="none" stroke="#BC2550" stroke-width="1.0"/>
<circle cx="107.4" cy="356.4" r="1.25" fill="none" stroke="#BC2550" stroke-width="1.0"/>
<circle cx="109.2" cy="355.3" r="1.25" fill="none" stroke="#BC2550" stroke-width="1.0"/>
<circle cx="115.5" cy="356.4" r="1.25" fill="none" stroke="#BC2550" stroke-width="1.0"/>
<circle cx="111.4" cy="363.4" r="1.25" fill="none" stroke="#BC2550" stroke-width="1.0"/>
<circle cx="103.3" cy="375.3" r="1.25" fill="none" stroke="#BC2550" stroke-width="1.0"/>
<circle cx="115.5" cy="382.3" r="1.25" fill="none" stroke="#BC2550" stroke-width="1.0"/>
<rect x="33.10" y="306.80" width="95.10" height="78.70" fill="none" stroke="#151515" stroke-width="1.35"/>
<line x1="29.80" y1="316.50" x2="33.00" y2="316.50" stroke="#151515" stroke-width="1"/>
<text x="27.00" y="318.25" font-size="6.8" text-anchor="end" fill="#1c1c1c">7</text>
<line x1="29.80" y1="333.80" x2="33.00" y2="333.80" stroke="#151515" stroke-width="1"/>
<text x="27.00" y="335.55" font-size="6.8" text-anchor="end" fill="#1c1c1c">6</text>
<line x1="29.80" y1="351.30" x2="33.00" y2="351.30" stroke="#151515" stroke-width="1"/>
<text x="27.00" y="353.05" font-size="6.8" text-anchor="end" fill="#1c1c1c">5</text>
<line x1="29.80" y1="368.50" x2="33.00" y2="368.50" stroke="#151515" stroke-width="1"/>
<text x="27.00" y="370.25" font-size="6.8" text-anchor="end" fill="#1c1c1c">4</text>
<line x1="29.80" y1="385.50" x2="33.00" y2="385.50" stroke="#151515" stroke-width="1"/>
<text x="27.00" y="387.25" font-size="6.8" text-anchor="end" fill="#1c1c1c">3</text>
<line x1="43.10" y1="385.50" x2="43.10" y2="388.50" stroke="#151515" stroke-width="1"/>
<text x="43.10" y="397.60" font-size="6.8" text-anchor="middle" fill="#1c1c1c">80</text>
<line x1="63.30" y1="385.50" x2="63.30" y2="388.50" stroke="#151515" stroke-width="1"/>
<text x="63.30" y="397.60" font-size="6.8" text-anchor="middle" fill="#1c1c1c">85</text>
<line x1="83.50" y1="385.50" x2="83.50" y2="388.50" stroke="#151515" stroke-width="1"/>
<text x="83.50" y="397.60" font-size="6.8" text-anchor="middle" fill="#1c1c1c">90</text>
<line x1="103.70" y1="385.50" x2="103.70" y2="388.50" stroke="#151515" stroke-width="1"/>
<text x="103.70" y="397.60" font-size="6.8" text-anchor="middle" fill="#1c1c1c">95</text>
<line x1="123.90" y1="385.50" x2="123.90" y2="388.50" stroke="#151515" stroke-width="1"/>
<text x="123.90" y="397.60" font-size="6.8" text-anchor="middle" fill="#1c1c1c">100</text>
<text class="t" transform="translate(18.10,346.80) rotate(-90)" x="0" y="0" font-size="9.6" text-anchor="middle" fill="#1c1c1c" textLength="91.2" lengthAdjust="spacingAndGlyphs">Red blood cell count (10<tspan font-size="6.2" dy="-3.4" dx="0.7">12</tspan><tspan dy="3.4" dx="0.5">l</tspan><tspan font-size="6.2" dy="-3.4" dx="0.7">-1</tspan><tspan dy="3.4" dx="0.5">)</tspan></text>
<text class="t" x="80.70" y="410.00" font-size="9.6" text-anchor="middle" fill="#1c1c1c" textLength="68.7" lengthAdjust="spacingAndGlyphs">Oxygen saturation (%)</text>
<circle cx="163.1" cy="318.6" r="1.25" fill="none" stroke="#66B544" stroke-width="1.0"/>
<circle cx="168.9" cy="314.2" r="1.25" fill="none" stroke="#66B544" stroke-width="1.0"/>
<circle cx="179.9" cy="326.6" r="1.25" fill="none" stroke="#66B544" stroke-width="1.0"/>
<circle cx="184.7" cy="332.7" r="1.25" fill="none" stroke="#66B544" stroke-width="1.0"/>
<circle cx="183.8" cy="336.8" r="1.25" fill="none" stroke="#66B544" stroke-width="1.0"/>
<circle cx="192.7" cy="337.4" r="1.25" fill="none" stroke="#66B544" stroke-width="1.0"/>
<circle cx="168.9" cy="343.9" r="1.25" fill="none" stroke="#66B544" stroke-width="1.0"/>
<circle cx="203.6" cy="325.4" r="1.25" fill="none" stroke="#66B544" stroke-width="1.0"/>
<circle cx="204.6" cy="332.3" r="1.25" fill="none" stroke="#66B544" stroke-width="1.0"/>
<circle cx="201.7" cy="337.8" r="1.25" fill="none" stroke="#66B544" stroke-width="1.0"/>
<circle cx="204.6" cy="340.4" r="1.25" fill="none" stroke="#66B544" stroke-width="1.0"/>
<circle cx="200.6" cy="346.3" r="1.25" fill="none" stroke="#66B544" stroke-width="1.0"/>
<circle cx="202.8" cy="348.3" r="1.25" fill="none" stroke="#66B544" stroke-width="1.0"/>
<circle cx="208.0" cy="347.3" r="1.25" fill="none" stroke="#66B544" stroke-width="1.0"/>
<circle cx="194.9" cy="351.4" r="1.25" fill="none" stroke="#66B544" stroke-width="1.0"/>
<circle cx="205.7" cy="352.7" r="1.25" fill="none" stroke="#66B544" stroke-width="1.0"/>
<circle cx="177.0" cy="360.4" r="1.25" fill="none" stroke="#66B544" stroke-width="1.0"/>
<circle cx="178.8" cy="365.2" r="1.25" fill="none" stroke="#66B544" stroke-width="1.0"/>
<circle cx="196.6" cy="365.2" r="1.25" fill="none" stroke="#66B544" stroke-width="1.0"/>
<circle cx="216.7" cy="310.4" r="1.25" fill="none" stroke="#66B544" stroke-width="1.0"/>
<circle cx="220.6" cy="327.3" r="1.25" fill="none" stroke="#66B544" stroke-width="1.0"/>
<circle cx="216.7" cy="332.3" r="1.25" fill="none" stroke="#66B544" stroke-width="1.0"/>
<circle cx="214.5" cy="340.4" r="1.25" fill="none" stroke="#66B544" stroke-width="1.0"/>
<circle cx="217.8" cy="342.2" r="1.25" fill="none" stroke="#66B544" stroke-width="1.0"/>
<circle cx="216.4" cy="345.1" r="1.25" fill="none" stroke="#66B544" stroke-width="1.0"/>
<circle cx="212.6" cy="353.1" r="1.25" fill="none" stroke="#66B544" stroke-width="1.0"/>
<circle cx="216.7" cy="349.5" r="1.25" fill="none" stroke="#66B544" stroke-width="1.0"/>
<circle cx="218.0" cy="348.8" r="1.25" fill="none" stroke="#66B544" stroke-width="1.0"/>
<circle cx="220.8" cy="352.0" r="1.25" fill="none" stroke="#66B544" stroke-width="1.0"/>
<circle cx="224.7" cy="351.7" r="1.25" fill="none" stroke="#66B544" stroke-width="1.0"/>
<circle cx="224.7" cy="343.6" r="1.25" fill="none" stroke="#66B544" stroke-width="1.0"/>
<circle cx="226.9" cy="340.0" r="1.25" fill="none" stroke="#66B544" stroke-width="1.0"/>
<circle cx="229.1" cy="341.5" r="1.25" fill="none" stroke="#66B544" stroke-width="1.0"/>
<circle cx="226.6" cy="344.4" r="1.25" fill="none" stroke="#66B544" stroke-width="1.0"/>
<circle cx="228.3" cy="348.8" r="1.25" fill="none" stroke="#66B544" stroke-width="1.0"/>
<circle cx="232.0" cy="344.4" r="1.25" fill="none" stroke="#66B544" stroke-width="1.0"/>
<circle cx="232.7" cy="347.3" r="1.25" fill="none" stroke="#66B544" stroke-width="1.0"/>
<circle cx="232.0" cy="351.7" r="1.25" fill="none" stroke="#66B544" stroke-width="1.0"/>
<circle cx="232.7" cy="354.6" r="1.25" fill="none" stroke="#66B544" stroke-width="1.0"/>
<circle cx="228.3" cy="356.0" r="1.25" fill="none" stroke="#66B544" stroke-width="1.0"/>
<circle cx="229.8" cy="360.1" r="1.25" fill="none" stroke="#66B544" stroke-width="1.0"/>
<circle cx="236.4" cy="340.0" r="1.25" fill="none" stroke="#66B544" stroke-width="1.0"/>
<circle cx="236.4" cy="342.9" r="1.25" fill="none" stroke="#66B544" stroke-width="1.0"/>
<circle cx="238.5" cy="346.6" r="1.25" fill="none" stroke="#66B544" stroke-width="1.0"/>
<circle cx="238.5" cy="354.3" r="1.25" fill="none" stroke="#66B544" stroke-width="1.0"/>
<circle cx="221.8" cy="364.8" r="1.25" fill="none" stroke="#66B544" stroke-width="1.0"/>
<circle cx="244.4" cy="362.2" r="1.25" fill="none" stroke="#66B544" stroke-width="1.0"/>
<circle cx="235.3" cy="373.3" r="1.25" fill="none" stroke="#66B544" stroke-width="1.0"/>
<circle cx="234.2" cy="348.8" r="1.25" fill="none" stroke="#66B544" stroke-width="1.0"/>
<circle cx="232.5" cy="343.2" r="1.25" fill="none" stroke="#66B544" stroke-width="1.0"/>
<circle cx="232.5" cy="349.5" r="1.25" fill="none" stroke="#66B544" stroke-width="1.0"/>
<circle cx="232.5" cy="352.6" r="1.25" fill="none" stroke="#66B544" stroke-width="1.0"/>
<circle cx="232.5" cy="355.6" r="1.25" fill="none" stroke="#66B544" stroke-width="1.0"/>
<circle cx="232.5" cy="358.2" r="1.25" fill="none" stroke="#66B544" stroke-width="1.0"/>
<circle cx="216.5" cy="351.5" r="1.25" fill="none" stroke="#66B544" stroke-width="1.0"/>
<circle cx="228.3" cy="352.8" r="1.25" fill="none" stroke="#9A90DA" stroke-width="1.0"/>
<circle cx="229.8" cy="358.2" r="1.25" fill="none" stroke="#9A90DA" stroke-width="1.0"/>
<circle cx="236.8" cy="361.1" r="1.25" fill="none" stroke="#9A90DA" stroke-width="1.0"/>
<circle cx="232.4" cy="364.1" r="1.25" fill="none" stroke="#9A90DA" stroke-width="1.0"/>
<circle cx="232.4" cy="367.7" r="1.25" fill="none" stroke="#9A90DA" stroke-width="1.0"/>
<circle cx="244.4" cy="369.6" r="1.25" fill="none" stroke="#9A90DA" stroke-width="1.0"/>
<circle cx="234.9" cy="377.2" r="1.25" fill="none" stroke="#9A90DA" stroke-width="1.0"/>
<circle cx="236.4" cy="349.0" r="1.25" fill="none" stroke="#52ACEE" stroke-width="1.0"/>
<circle cx="236.4" cy="353.1" r="1.25" fill="none" stroke="#52ACEE" stroke-width="1.0"/>
<circle cx="240.4" cy="382.3" r="1.25" fill="none" stroke="#52ACEE" stroke-width="1.0"/>
<circle cx="228.3" cy="342.5" r="1.25" fill="none" stroke="#BC2550" stroke-width="1.0"/>
<circle cx="228.3" cy="345.5" r="1.25" fill="none" stroke="#BC2550" stroke-width="1.0"/>
<circle cx="232.7" cy="344.7" r="1.25" fill="none" stroke="#BC2550" stroke-width="1.0"/>
<circle cx="234.9" cy="345.8" r="1.25" fill="none" stroke="#BC2550" stroke-width="1.0"/>
<circle cx="224.4" cy="350.5" r="1.25" fill="none" stroke="#BC2550" stroke-width="1.0"/>
<circle cx="232.4" cy="351.4" r="1.25" fill="none" stroke="#BC2550" stroke-width="1.0"/>
<circle cx="234.9" cy="360.1" r="1.25" fill="none" stroke="#BC2550" stroke-width="1.0"/>
<circle cx="240.4" cy="365.1" r="1.25" fill="none" stroke="#BC2550" stroke-width="1.0"/>
<circle cx="236.4" cy="368.4" r="1.25" fill="none" stroke="#BC2550" stroke-width="1.0"/>
<circle cx="228.3" cy="372.5" r="1.25" fill="none" stroke="#BC2550" stroke-width="1.0"/>
<circle cx="240.4" cy="371.4" r="1.25" fill="none" stroke="#BC2550" stroke-width="1.0"/>
<rect x="159.00" y="306.60" width="94.30" height="78.70" fill="none" stroke="#151515" stroke-width="1.35"/>
<line x1="155.80" y1="318.90" x2="159.00" y2="318.90" stroke="#151515" stroke-width="1"/>
<text x="153.00" y="320.65" font-size="6.8" text-anchor="end" fill="#1c1c1c">60</text>
<line x1="155.80" y1="337.70" x2="159.00" y2="337.70" stroke="#151515" stroke-width="1"/>
<text x="153.00" y="339.45" font-size="6.8" text-anchor="end" fill="#1c1c1c">50</text>
<line x1="155.80" y1="356.40" x2="159.00" y2="356.40" stroke="#151515" stroke-width="1"/>
<text x="153.00" y="358.15" font-size="6.8" text-anchor="end" fill="#1c1c1c">40</text>
<line x1="155.80" y1="375.20" x2="159.00" y2="375.20" stroke="#151515" stroke-width="1"/>
<text x="153.00" y="376.95" font-size="6.8" text-anchor="end" fill="#1c1c1c">30</text>
<line x1="169.00" y1="385.30" x2="169.00" y2="388.30" stroke="#151515" stroke-width="1"/>
<text x="169.00" y="397.60" font-size="6.8" text-anchor="middle" fill="#1c1c1c">80</text>
<line x1="188.60" y1="385.30" x2="188.60" y2="388.30" stroke="#151515" stroke-width="1"/>
<text x="188.60" y="397.60" font-size="6.8" text-anchor="middle" fill="#1c1c1c">85</text>
<line x1="208.30" y1="385.30" x2="208.30" y2="388.30" stroke="#151515" stroke-width="1"/>
<text x="208.30" y="397.60" font-size="6.8" text-anchor="middle" fill="#1c1c1c">90</text>
<line x1="228.10" y1="385.30" x2="228.10" y2="388.30" stroke="#151515" stroke-width="1"/>
<text x="228.10" y="397.60" font-size="6.8" text-anchor="middle" fill="#1c1c1c">95</text>
<line x1="247.80" y1="385.30" x2="247.80" y2="388.30" stroke="#151515" stroke-width="1"/>
<text x="247.80" y="397.60" font-size="6.8" text-anchor="middle" fill="#1c1c1c">100</text>
<text class="t" transform="translate(140.30,346.20) rotate(-90)" x="0" y="0" font-size="9.6" text-anchor="middle" fill="#1c1c1c" textLength="46.9" lengthAdjust="spacingAndGlyphs">hematocrit (%)</text>
<text class="t" x="206.00" y="410.00" font-size="9.6" text-anchor="middle" fill="#1c1c1c" textLength="68.7" lengthAdjust="spacingAndGlyphs">Oxygen saturation (%)</text>
<circle cx="296.5" cy="310.4" r="1.25" fill="none" stroke="#66B544" stroke-width="1.0"/>
<circle cx="290.8" cy="319.2" r="1.25" fill="none" stroke="#66B544" stroke-width="1.0"/>
<circle cx="307.4" cy="323.5" r="1.25" fill="none" stroke="#66B544" stroke-width="1.0"/>
<circle cx="311.2" cy="336.8" r="1.25" fill="none" stroke="#66B544" stroke-width="1.0"/>
<circle cx="312.3" cy="337.8" r="1.25" fill="none" stroke="#66B544" stroke-width="1.0"/>
<circle cx="296.7" cy="341.5" r="1.25" fill="none" stroke="#66B544" stroke-width="1.0"/>
<circle cx="320.3" cy="333.5" r="1.25" fill="none" stroke="#66B544" stroke-width="1.0"/>
<circle cx="330.5" cy="323.5" r="1.25" fill="none" stroke="#66B544" stroke-width="1.0"/>
<circle cx="328.7" cy="332.4" r="1.25" fill="none" stroke="#66B544" stroke-width="1.0"/>
<circle cx="332.0" cy="332.4" r="1.25" fill="none" stroke="#66B544" stroke-width="1.0"/>
<circle cx="331.7" cy="339.3" r="1.25" fill="none" stroke="#66B544" stroke-width="1.0"/>
<circle cx="327.9" cy="344.4" r="1.25" fill="none" stroke="#66B544" stroke-width="1.0"/>
<circle cx="322.2" cy="347.7" r="1.25" fill="none" stroke="#66B544" stroke-width="1.0"/>
<circle cx="329.8" cy="350.5" r="1.25" fill="none" stroke="#66B544" stroke-width="1.0"/>
<circle cx="332.7" cy="359.4" r="1.25" fill="none" stroke="#66B544" stroke-width="1.0"/>
<circle cx="304.2" cy="364.8" r="1.25" fill="none" stroke="#66B544" stroke-width="1.0"/>
<circle cx="306.4" cy="367.7" r="1.25" fill="none" stroke="#66B544" stroke-width="1.0"/>
<circle cx="324.2" cy="368.2" r="1.25" fill="none" stroke="#66B544" stroke-width="1.0"/>
<circle cx="343.6" cy="314.8" r="1.25" fill="none" stroke="#66B544" stroke-width="1.0"/>
<circle cx="343.6" cy="331.7" r="1.25" fill="none" stroke="#66B544" stroke-width="1.0"/>
<circle cx="347.5" cy="333.7" r="1.25" fill="none" stroke="#66B544" stroke-width="1.0"/>
<circle cx="341.4" cy="340.0" r="1.25" fill="none" stroke="#66B544" stroke-width="1.0"/>
<circle cx="343.9" cy="340.4" r="1.25" fill="none" stroke="#66B544" stroke-width="1.0"/>
<circle cx="343.9" cy="342.9" r="1.25" fill="none" stroke="#66B544" stroke-width="1.0"/>
<circle cx="335.8" cy="348.0" r="1.25" fill="none" stroke="#66B544" stroke-width="1.0"/>
<circle cx="339.5" cy="349.0" r="1.25" fill="none" stroke="#66B544" stroke-width="1.0"/>
<circle cx="343.4" cy="349.5" r="1.25" fill="none" stroke="#66B544" stroke-width="1.0"/>
<circle cx="344.3" cy="351.4" r="1.25" fill="none" stroke="#66B544" stroke-width="1.0"/>
<circle cx="347.5" cy="352.8" r="1.25" fill="none" stroke="#66B544" stroke-width="1.0"/>
<circle cx="353.3" cy="337.1" r="1.25" fill="none" stroke="#66B544" stroke-width="1.0"/>
<circle cx="351.9" cy="342.2" r="1.25" fill="none" stroke="#66B544" stroke-width="1.0"/>
<circle cx="353.3" cy="344.4" r="1.25" fill="none" stroke="#66B544" stroke-width="1.0"/>
<circle cx="357.7" cy="343.6" r="1.25" fill="none" stroke="#66B544" stroke-width="1.0"/>
<circle cx="359.2" cy="342.9" r="1.25" fill="none" stroke="#66B544" stroke-width="1.0"/>
<circle cx="363.5" cy="340.0" r="1.25" fill="none" stroke="#66B544" stroke-width="1.0"/>
<circle cx="363.5" cy="343.6" r="1.25" fill="none" stroke="#66B544" stroke-width="1.0"/>
<circle cx="365.0" cy="346.1" r="1.25" fill="none" stroke="#66B544" stroke-width="1.0"/>
<circle cx="355.5" cy="347.3" r="1.25" fill="none" stroke="#66B544" stroke-width="1.0"/>
<circle cx="359.2" cy="351.7" r="1.25" fill="none" stroke="#66B544" stroke-width="1.0"/>
<circle cx="359.9" cy="353.1" r="1.25" fill="none" stroke="#66B544" stroke-width="1.0"/>
<circle cx="351.1" cy="355.3" r="1.25" fill="none" stroke="#66B544" stroke-width="1.0"/>
<circle cx="353.3" cy="354.6" r="1.25" fill="none" stroke="#66B544" stroke-width="1.0"/>
<circle cx="355.5" cy="356.3" r="1.25" fill="none" stroke="#66B544" stroke-width="1.0"/>
<circle cx="357.7" cy="358.2" r="1.25" fill="none" stroke="#66B544" stroke-width="1.0"/>
<circle cx="357.0" cy="359.2" r="1.25" fill="none" stroke="#66B544" stroke-width="1.0"/>
<circle cx="359.9" cy="356.8" r="1.25" fill="none" stroke="#66B544" stroke-width="1.0"/>
<circle cx="365.0" cy="354.6" r="1.25" fill="none" stroke="#66B544" stroke-width="1.0"/>
<circle cx="348.2" cy="364.8" r="1.25" fill="none" stroke="#66B544" stroke-width="1.0"/>
<circle cx="356.3" cy="363.0" r="1.25" fill="none" stroke="#66B544" stroke-width="1.0"/>
<circle cx="371.1" cy="361.9" r="1.25" fill="none" stroke="#66B544" stroke-width="1.0"/>
<circle cx="362.4" cy="375.7" r="1.25" fill="none" stroke="#66B544" stroke-width="1.0"/>
<circle cx="355.5" cy="352.4" r="1.25" fill="none" stroke="#9A90DA" stroke-width="1.0"/>
<circle cx="359.2" cy="362.6" r="1.25" fill="none" stroke="#9A90DA" stroke-width="1.0"/>
<circle cx="363.3" cy="362.3" r="1.25" fill="none" stroke="#9A90DA" stroke-width="1.0"/>
<circle cx="359.9" cy="364.8" r="1.25" fill="none" stroke="#9A90DA" stroke-width="1.0"/>
<circle cx="371.3" cy="369.2" r="1.25" fill="none" stroke="#9A90DA" stroke-width="1.0"/>
<circle cx="361.1" cy="377.9" r="1.25" fill="none" stroke="#9A90DA" stroke-width="1.0"/>
<circle cx="363.3" cy="348.5" r="1.25" fill="none" stroke="#52ACEE" stroke-width="1.0"/>
<circle cx="362.8" cy="356.0" r="1.25" fill="none" stroke="#52ACEE" stroke-width="1.0"/>
<circle cx="367.2" cy="382.0" r="1.25" fill="none" stroke="#52ACEE" stroke-width="1.0"/>
<circle cx="355.1" cy="339.0" r="1.25" fill="none" stroke="#BC2550" stroke-width="1.0"/>
<circle cx="359.6" cy="339.6" r="1.25" fill="none" stroke="#BC2550" stroke-width="1.0"/>
<circle cx="355.1" cy="343.6" r="1.25" fill="none" stroke="#BC2550" stroke-width="1.0"/>
<circle cx="361.4" cy="343.6" r="1.25" fill="none" stroke="#BC2550" stroke-width="1.0"/>
<circle cx="359.2" cy="347.6" r="1.25" fill="none" stroke="#BC2550" stroke-width="1.0"/>
<circle cx="351.6" cy="351.4" r="1.25" fill="none" stroke="#BC2550" stroke-width="1.0"/>
<circle cx="361.4" cy="363.3" r="1.25" fill="none" stroke="#BC2550" stroke-width="1.0"/>
<circle cx="366.9" cy="364.4" r="1.25" fill="none" stroke="#BC2550" stroke-width="1.0"/>
<circle cx="355.5" cy="368.0" r="1.25" fill="none" stroke="#BC2550" stroke-width="1.0"/>
<circle cx="363.3" cy="368.4" r="1.25" fill="none" stroke="#BC2550" stroke-width="1.0"/>
<circle cx="367.2" cy="369.9" r="1.25" fill="none" stroke="#BC2550" stroke-width="1.0"/>
<rect x="286.90" y="306.60" width="91.90" height="78.70" fill="none" stroke="#151515" stroke-width="1.35"/>
<line x1="283.70" y1="323.30" x2="286.90" y2="323.30" stroke="#151515" stroke-width="1"/>
<text x="280.90" y="325.05" font-size="6.8" text-anchor="end" fill="#1c1c1c">20</text>
<line x1="283.70" y1="346.90" x2="286.90" y2="346.90" stroke="#151515" stroke-width="1"/>
<text x="280.90" y="348.65" font-size="6.8" text-anchor="end" fill="#1c1c1c">15</text>
<line x1="283.70" y1="370.30" x2="286.90" y2="370.30" stroke="#151515" stroke-width="1"/>
<text x="280.90" y="372.05" font-size="6.8" text-anchor="end" fill="#1c1c1c">10</text>
<line x1="296.10" y1="385.30" x2="296.10" y2="388.30" stroke="#151515" stroke-width="1"/>
<text x="296.10" y="397.60" font-size="6.8" text-anchor="middle" fill="#1c1c1c">80</text>
<line x1="316.00" y1="385.30" x2="316.00" y2="388.30" stroke="#151515" stroke-width="1"/>
<text x="316.00" y="397.60" font-size="6.8" text-anchor="middle" fill="#1c1c1c">85</text>
<line x1="335.70" y1="385.30" x2="335.70" y2="388.30" stroke="#151515" stroke-width="1"/>
<text x="335.70" y="397.60" font-size="6.8" text-anchor="middle" fill="#1c1c1c">90</text>
<line x1="355.50" y1="385.30" x2="355.50" y2="388.30" stroke="#151515" stroke-width="1"/>
<text x="355.50" y="397.60" font-size="6.8" text-anchor="middle" fill="#1c1c1c">95</text>
<line x1="375.40" y1="385.30" x2="375.40" y2="388.30" stroke="#151515" stroke-width="1"/>
<text x="375.40" y="397.60" font-size="6.8" text-anchor="middle" fill="#1c1c1c">100</text>
<text class="t" transform="translate(268.50,345.50) rotate(-90)" x="0" y="0" font-size="9.6" text-anchor="middle" fill="#1c1c1c" textLength="108.1" lengthAdjust="spacingAndGlyphs">hemoglobin concentration (g(dl)<tspan font-size="6.2" dy="-3.4" dx="0.7">-1</tspan><tspan dy="3.4" dx="0.5">)</tspan></text>
<text class="t" x="333.50" y="410.00" font-size="9.6" text-anchor="middle" fill="#1c1c1c" textLength="68.7" lengthAdjust="spacingAndGlyphs">Oxygen saturation (%)</text>
<text class="t" transform="translate(384.2,337.3) rotate(90)" x="0" y="0" font-size="8.3" text-anchor="start" fill="#383838" textLength="18.6" lengthAdjust="spacingAndGlyphs">Males</text>
<circle cx="37.4" cy="452.2" r="1.25" fill="none" stroke="#66B544" stroke-width="1.0"/>
<circle cx="60.4" cy="458.4" r="1.25" fill="none" stroke="#66B544" stroke-width="1.0"/>
<circle cx="66.5" cy="448.5" r="1.25" fill="none" stroke="#66B544" stroke-width="1.0"/>
<circle cx="72.8" cy="450.4" r="1.25" fill="none" stroke="#66B544" stroke-width="1.0"/>
<circle cx="71.3" cy="454.5" r="1.25" fill="none" stroke="#66B544" stroke-width="1.0"/>
<circle cx="77.5" cy="467.5" r="1.25" fill="none" stroke="#66B544" stroke-width="1.0"/>
<circle cx="82.6" cy="465.0" r="1.25" fill="none" stroke="#66B544" stroke-width="1.0"/>
<circle cx="82.6" cy="479.6" r="1.25" fill="none" stroke="#66B544" stroke-width="1.0"/>
<circle cx="95.3" cy="436.9" r="1.25" fill="none" stroke="#66B544" stroke-width="1.0"/>
<circle cx="119.1" cy="434.7" r="1.25" fill="none" stroke="#66B544" stroke-width="1.0"/>
<circle cx="99.7" cy="451.6" r="1.25" fill="none" stroke="#66B544" stroke-width="1.0"/>
<circle cx="86.6" cy="455.5" r="1.25" fill="none" stroke="#66B544" stroke-width="1.0"/>
<circle cx="89.9" cy="454.5" r="1.25" fill="none" stroke="#66B544" stroke-width="1.0"/>
<circle cx="93.4" cy="454.1" r="1.25" fill="none" stroke="#66B544" stroke-width="1.0"/>
<circle cx="93.4" cy="457.0" r="1.25" fill="none" stroke="#66B544" stroke-width="1.0"/>
<circle cx="97.2" cy="454.1" r="1.25" fill="none" stroke="#66B544" stroke-width="1.0"/>
<circle cx="97.8" cy="456.3" r="1.25" fill="none" stroke="#66B544" stroke-width="1.0"/>
<circle cx="102.6" cy="454.8" r="1.25" fill="none" stroke="#66B544" stroke-width="1.0"/>
<circle cx="107.0" cy="456.0" r="1.25" fill="none" stroke="#66B544" stroke-width="1.0"/>
<circle cx="85.1" cy="460.6" r="1.25" fill="none" stroke="#66B544" stroke-width="1.0"/>
<circle cx="87.0" cy="463.5" r="1.25" fill="none" stroke="#66B544" stroke-width="1.0"/>
<circle cx="88.0" cy="466.2" r="1.25" fill="none" stroke="#66B544" stroke-width="1.0"/>
<circle cx="91.4" cy="461.4" r="1.25" fill="none" stroke="#66B544" stroke-width="1.0"/>
<circle cx="91.7" cy="464.3" r="1.25" fill="none" stroke="#66B544" stroke-width="1.0"/>
<circle cx="92.8" cy="465.0" r="1.25" fill="none" stroke="#66B544" stroke-width="1.0"/>
<circle cx="96.8" cy="463.8" r="1.25" fill="none" stroke="#66B544" stroke-width="1.0"/>
<circle cx="100.4" cy="462.1" r="1.25" fill="none" stroke="#66B544" stroke-width="1.0"/>
<circle cx="101.9" cy="458.4" r="1.25" fill="none" stroke="#66B544" stroke-width="1.0"/>
<circle cx="102.6" cy="461.4" r="1.25" fill="none" stroke="#66B544" stroke-width="1.0"/>
<circle cx="97.5" cy="468.6" r="1.25" fill="none" stroke="#66B544" stroke-width="1.0"/>
<circle cx="99.7" cy="467.2" r="1.25" fill="none" stroke="#66B544" stroke-width="1.0"/>
<circle cx="104.1" cy="465.7" r="1.25" fill="none" stroke="#66B544" stroke-width="1.0"/>
<circle cx="105.5" cy="460.6" r="1.25" fill="none" stroke="#66B544" stroke-width="1.0"/>
<circle cx="109.2" cy="465.0" r="1.25" fill="none" stroke="#66B544" stroke-width="1.0"/>
<circle cx="111.4" cy="463.5" r="1.25" fill="none" stroke="#66B544" stroke-width="1.0"/>
<circle cx="112.1" cy="467.2" r="1.25" fill="none" stroke="#66B544" stroke-width="1.0"/>
<circle cx="113.5" cy="468.6" r="1.25" fill="none" stroke="#66B544" stroke-width="1.0"/>
<circle cx="115.0" cy="465.0" r="1.25" fill="none" stroke="#66B544" stroke-width="1.0"/>
<circle cx="109.9" cy="471.6" r="1.25" fill="none" stroke="#66B544" stroke-width="1.0"/>
<circle cx="111.4" cy="473.8" r="1.25" fill="none" stroke="#66B544" stroke-width="1.0"/>
<circle cx="112.8" cy="470.8" r="1.25" fill="none" stroke="#66B544" stroke-width="1.0"/>
<circle cx="115.0" cy="472.3" r="1.25" fill="none" stroke="#66B544" stroke-width="1.0"/>
<circle cx="117.9" cy="472.3" r="1.25" fill="none" stroke="#66B544" stroke-width="1.0"/>
<circle cx="120.8" cy="473.0" r="1.25" fill="none" stroke="#66B544" stroke-width="1.0"/>
<circle cx="123.0" cy="473.5" r="1.25" fill="none" stroke="#66B544" stroke-width="1.0"/>
<circle cx="111.4" cy="477.4" r="1.25" fill="none" stroke="#66B544" stroke-width="1.0"/>
<circle cx="112.8" cy="476.7" r="1.25" fill="none" stroke="#66B544" stroke-width="1.0"/>
<circle cx="115.0" cy="480.3" r="1.25" fill="none" stroke="#66B544" stroke-width="1.0"/>
<circle cx="117.2" cy="478.1" r="1.25" fill="none" stroke="#66B544" stroke-width="1.0"/>
<circle cx="121.6" cy="479.6" r="1.25" fill="none" stroke="#66B544" stroke-width="1.0"/>
<circle cx="90.2" cy="473.5" r="1.25" fill="none" stroke="#66B544" stroke-width="1.0"/>
<circle cx="98.2" cy="479.6" r="1.25" fill="none" stroke="#66B544" stroke-width="1.0"/>
<circle cx="104.5" cy="485.4" r="1.25" fill="none" stroke="#66B544" stroke-width="1.0"/>
<circle cx="109.2" cy="488.3" r="1.25" fill="none" stroke="#66B544" stroke-width="1.0"/>
<circle cx="121.6" cy="490.1" r="1.25" fill="none" stroke="#66B544" stroke-width="1.0"/>
<circle cx="119.1" cy="502.9" r="1.25" fill="none" stroke="#66B544" stroke-width="1.0"/>
<circle cx="104.1" cy="475.5" r="1.25" fill="none" stroke="#66B544" stroke-width="1.0"/>
<circle cx="113.0" cy="462.0" r="1.25" fill="none" stroke="#66B544" stroke-width="1.0"/>
<circle cx="114.0" cy="470.0" r="1.25" fill="none" stroke="#66B544" stroke-width="1.0"/>
<circle cx="116.0" cy="474.0" r="1.25" fill="none" stroke="#66B544" stroke-width="1.0"/>
<circle cx="118.0" cy="470.0" r="1.25" fill="none" stroke="#66B544" stroke-width="1.0"/>
<circle cx="110.5" cy="468.0" r="1.25" fill="none" stroke="#66B544" stroke-width="1.0"/>
<circle cx="112.0" cy="480.0" r="1.25" fill="none" stroke="#66B544" stroke-width="1.0"/>
<circle cx="114.5" cy="476.0" r="1.25" fill="none" stroke="#66B544" stroke-width="1.0"/>
<circle cx="84.4" cy="452.6" r="1.25" fill="none" stroke="#9A90DA" stroke-width="1.0"/>
<circle cx="108.4" cy="459.9" r="1.25" fill="none" stroke="#9A90DA" stroke-width="1.0"/>
<circle cx="110.6" cy="466.5" r="1.25" fill="none" stroke="#9A90DA" stroke-width="1.0"/>
<circle cx="102.6" cy="469.4" r="1.25" fill="none" stroke="#9A90DA" stroke-width="1.0"/>
<circle cx="101.9" cy="473.0" r="1.25" fill="none" stroke="#9A90DA" stroke-width="1.0"/>
<circle cx="104.1" cy="472.3" r="1.25" fill="none" stroke="#9A90DA" stroke-width="1.0"/>
<circle cx="107.0" cy="480.3" r="1.25" fill="none" stroke="#9A90DA" stroke-width="1.0"/>
<circle cx="99.7" cy="482.5" r="1.25" fill="none" stroke="#9A90DA" stroke-width="1.0"/>
<circle cx="96.3" cy="488.3" r="1.25" fill="none" stroke="#9A90DA" stroke-width="1.0"/>
<circle cx="113.5" cy="486.9" r="1.25" fill="none" stroke="#9A90DA" stroke-width="1.0"/>
<circle cx="114.3" cy="490.5" r="1.25" fill="none" stroke="#9A90DA" stroke-width="1.0"/>
<circle cx="123.7" cy="496.4" r="1.25" fill="none" stroke="#9A90DA" stroke-width="1.0"/>
<circle cx="114.3" cy="506.1" r="1.25" fill="none" stroke="#9A90DA" stroke-width="1.0"/>
<circle cx="117.2" cy="467.2" r="1.25" fill="none" stroke="#9A90DA" stroke-width="1.0"/>
<circle cx="116.5" cy="468.6" r="1.25" fill="none" stroke="#52ACEE" stroke-width="1.0"/>
<circle cx="117.2" cy="471.6" r="1.25" fill="none" stroke="#52ACEE" stroke-width="1.0"/>
<circle cx="116.5" cy="481.0" r="1.25" fill="none" stroke="#52ACEE" stroke-width="1.0"/>
<circle cx="114.3" cy="457.4" r="1.25" fill="none" stroke="#BC2550" stroke-width="1.0"/>
<circle cx="116.5" cy="460.3" r="1.25" fill="none" stroke="#BC2550" stroke-width="1.0"/>
<circle cx="107.0" cy="469.1" r="1.25" fill="none" stroke="#BC2550" stroke-width="1.0"/>
<circle cx="116.5" cy="465.0" r="1.25" fill="none" stroke="#BC2550" stroke-width="1.0"/>
<circle cx="117.2" cy="478.1" r="1.25" fill="none" stroke="#BC2550" stroke-width="1.0"/>
<circle cx="119.1" cy="482.2" r="1.25" fill="none" stroke="#BC2550" stroke-width="1.0"/>
<circle cx="115.7" cy="481.8" r="1.25" fill="none" stroke="#BC2550" stroke-width="1.0"/>
<rect x="33.10" y="431.00" width="94.90" height="78.90" fill="none" stroke="#151515" stroke-width="1.35"/>
<line x1="29.80" y1="433.70" x2="33.00" y2="433.70" stroke="#151515" stroke-width="1"/>
<text x="27.00" y="435.45" font-size="6.8" text-anchor="end" fill="#1c1c1c">7</text>
<line x1="29.80" y1="449.30" x2="33.00" y2="449.30" stroke="#151515" stroke-width="1"/>
<text x="27.00" y="451.05" font-size="6.8" text-anchor="end" fill="#1c1c1c">6</text>
<line x1="29.80" y1="464.90" x2="33.00" y2="464.90" stroke="#151515" stroke-width="1"/>
<text x="27.00" y="466.65" font-size="6.8" text-anchor="end" fill="#1c1c1c">5</text>
<line x1="29.80" y1="480.50" x2="33.00" y2="480.50" stroke="#151515" stroke-width="1"/>
<text x="27.00" y="482.25" font-size="6.8" text-anchor="end" fill="#1c1c1c">4</text>
<line x1="29.80" y1="496.10" x2="33.00" y2="496.10" stroke="#151515" stroke-width="1"/>
<text x="27.00" y="497.85" font-size="6.8" text-anchor="end" fill="#1c1c1c">3</text>
<line x1="52.00" y1="509.90" x2="52.00" y2="512.90" stroke="#151515" stroke-width="1"/>
<text x="52.00" y="522.00" font-size="6.8" text-anchor="middle" fill="#1c1c1c">70</text>
<line x1="76.00" y1="509.90" x2="76.00" y2="512.90" stroke="#151515" stroke-width="1"/>
<text x="76.00" y="522.00" font-size="6.8" text-anchor="middle" fill="#1c1c1c">80</text>
<line x1="100.00" y1="509.90" x2="100.00" y2="512.90" stroke="#151515" stroke-width="1"/>
<text x="100.00" y="522.00" font-size="6.8" text-anchor="middle" fill="#1c1c1c">90</text>
<line x1="123.90" y1="509.90" x2="123.90" y2="512.90" stroke="#151515" stroke-width="1"/>
<text x="123.90" y="522.00" font-size="6.8" text-anchor="middle" fill="#1c1c1c">100</text>
<text class="t" transform="translate(17.60,470.20) rotate(-90)" x="0" y="0" font-size="9.6" text-anchor="middle" fill="#1c1c1c" textLength="91.6" lengthAdjust="spacingAndGlyphs">Red blood cell count (10<tspan font-size="6.2" dy="-3.4" dx="0.7">12</tspan><tspan dy="3.4" dx="0.5">l</tspan><tspan font-size="6.2" dy="-3.4" dx="0.7">-1</tspan><tspan dy="3.4" dx="0.5">)</tspan></text>
<text class="t" x="80.80" y="534.30" font-size="9.6" text-anchor="middle" fill="#1c1c1c" textLength="68.7" lengthAdjust="spacingAndGlyphs">Oxygen saturation (%)</text>
<circle cx="163.5" cy="439.0" r="1.25" fill="none" stroke="#66B544" stroke-width="1.0"/>
<circle cx="191.8" cy="439.0" r="1.25" fill="none" stroke="#66B544" stroke-width="1.0"/>
<circle cx="198.4" cy="444.9" r="1.25" fill="none" stroke="#66B544" stroke-width="1.0"/>
<circle cx="186.0" cy="455.5" r="1.25" fill="none" stroke="#66B544" stroke-width="1.0"/>
<circle cx="196.3" cy="457.3" r="1.25" fill="none" stroke="#66B544" stroke-width="1.0"/>
<circle cx="203.2" cy="461.8" r="1.25" fill="none" stroke="#66B544" stroke-width="1.0"/>
<circle cx="207.6" cy="458.4" r="1.25" fill="none" stroke="#66B544" stroke-width="1.0"/>
<circle cx="207.6" cy="492.4" r="1.25" fill="none" stroke="#66B544" stroke-width="1.0"/>
<circle cx="220.3" cy="434.7" r="1.25" fill="none" stroke="#66B544" stroke-width="1.0"/>
<circle cx="222.5" cy="445.8" r="1.25" fill="none" stroke="#66B544" stroke-width="1.0"/>
<circle cx="222.5" cy="453.0" r="1.25" fill="none" stroke="#66B544" stroke-width="1.0"/>
<circle cx="211.1" cy="453.6" r="1.25" fill="none" stroke="#66B544" stroke-width="1.0"/>
<circle cx="214.9" cy="454.8" r="1.25" fill="none" stroke="#66B544" stroke-width="1.0"/>
<circle cx="217.8" cy="457.4" r="1.25" fill="none" stroke="#66B544" stroke-width="1.0"/>
<circle cx="224.7" cy="456.3" r="1.25" fill="none" stroke="#66B544" stroke-width="1.0"/>
<circle cx="227.2" cy="457.4" r="1.25" fill="none" stroke="#66B544" stroke-width="1.0"/>
<circle cx="229.8" cy="457.4" r="1.25" fill="none" stroke="#66B544" stroke-width="1.0"/>
<circle cx="233.9" cy="457.4" r="1.25" fill="none" stroke="#66B544" stroke-width="1.0"/>
<circle cx="216.4" cy="460.6" r="1.25" fill="none" stroke="#66B544" stroke-width="1.0"/>
<circle cx="218.9" cy="461.4" r="1.25" fill="none" stroke="#66B544" stroke-width="1.0"/>
<circle cx="224.0" cy="460.6" r="1.25" fill="none" stroke="#66B544" stroke-width="1.0"/>
<circle cx="210.1" cy="465.0" r="1.25" fill="none" stroke="#66B544" stroke-width="1.0"/>
<circle cx="213.0" cy="463.8" r="1.25" fill="none" stroke="#66B544" stroke-width="1.0"/>
<circle cx="215.9" cy="465.7" r="1.25" fill="none" stroke="#66B544" stroke-width="1.0"/>
<circle cx="218.9" cy="465.0" r="1.25" fill="none" stroke="#66B544" stroke-width="1.0"/>
<circle cx="222.2" cy="464.3" r="1.25" fill="none" stroke="#66B544" stroke-width="1.0"/>
<circle cx="223.2" cy="462.8" r="1.25" fill="none" stroke="#66B544" stroke-width="1.0"/>
<circle cx="215.2" cy="468.2" r="1.25" fill="none" stroke="#66B544" stroke-width="1.0"/>
<circle cx="218.4" cy="469.1" r="1.25" fill="none" stroke="#66B544" stroke-width="1.0"/>
<circle cx="221.0" cy="467.6" r="1.25" fill="none" stroke="#66B544" stroke-width="1.0"/>
<circle cx="223.2" cy="471.1" r="1.25" fill="none" stroke="#66B544" stroke-width="1.0"/>
<circle cx="226.9" cy="469.1" r="1.25" fill="none" stroke="#66B544" stroke-width="1.0"/>
<circle cx="229.8" cy="466.8" r="1.25" fill="none" stroke="#66B544" stroke-width="1.0"/>
<circle cx="230.5" cy="469.4" r="1.25" fill="none" stroke="#66B544" stroke-width="1.0"/>
<circle cx="233.4" cy="467.2" r="1.25" fill="none" stroke="#66B544" stroke-width="1.0"/>
<circle cx="235.6" cy="463.5" r="1.25" fill="none" stroke="#66B544" stroke-width="1.0"/>
<circle cx="236.8" cy="465.7" r="1.25" fill="none" stroke="#66B544" stroke-width="1.0"/>
<circle cx="238.3" cy="461.4" r="1.25" fill="none" stroke="#66B544" stroke-width="1.0"/>
<circle cx="238.8" cy="465.0" r="1.25" fill="none" stroke="#66B544" stroke-width="1.0"/>
<circle cx="239.3" cy="468.2" r="1.25" fill="none" stroke="#66B544" stroke-width="1.0"/>
<circle cx="234.9" cy="470.1" r="1.25" fill="none" stroke="#66B544" stroke-width="1.0"/>
<circle cx="236.4" cy="472.3" r="1.25" fill="none" stroke="#66B544" stroke-width="1.0"/>
<circle cx="240.0" cy="470.1" r="1.25" fill="none" stroke="#66B544" stroke-width="1.0"/>
<circle cx="244.1" cy="468.2" r="1.25" fill="none" stroke="#66B544" stroke-width="1.0"/>
<circle cx="236.4" cy="475.2" r="1.25" fill="none" stroke="#66B544" stroke-width="1.0"/>
<circle cx="238.3" cy="476.7" r="1.25" fill="none" stroke="#66B544" stroke-width="1.0"/>
<circle cx="240.0" cy="474.5" r="1.25" fill="none" stroke="#66B544" stroke-width="1.0"/>
<circle cx="242.2" cy="476.7" r="1.25" fill="none" stroke="#66B544" stroke-width="1.0"/>
<circle cx="246.1" cy="474.9" r="1.25" fill="none" stroke="#66B544" stroke-width="1.0"/>
<circle cx="247.3" cy="478.1" r="1.25" fill="none" stroke="#66B544" stroke-width="1.0"/>
<circle cx="238.8" cy="479.6" r="1.25" fill="none" stroke="#66B544" stroke-width="1.0"/>
<circle cx="229.8" cy="480.3" r="1.25" fill="none" stroke="#66B544" stroke-width="1.0"/>
<circle cx="224.7" cy="483.2" r="1.25" fill="none" stroke="#66B544" stroke-width="1.0"/>
<circle cx="236.4" cy="482.5" r="1.25" fill="none" stroke="#66B544" stroke-width="1.0"/>
<circle cx="240.0" cy="484.0" r="1.25" fill="none" stroke="#66B544" stroke-width="1.0"/>
<circle cx="241.5" cy="486.9" r="1.25" fill="none" stroke="#66B544" stroke-width="1.0"/>
<circle cx="243.6" cy="489.8" r="1.25" fill="none" stroke="#66B544" stroke-width="1.0"/>
<circle cx="246.1" cy="494.2" r="1.25" fill="none" stroke="#66B544" stroke-width="1.0"/>
<circle cx="243.6" cy="499.7" r="1.25" fill="none" stroke="#66B544" stroke-width="1.0"/>
<circle cx="236.4" cy="497.8" r="1.25" fill="none" stroke="#66B544" stroke-width="1.0"/>
<circle cx="234.2" cy="501.2" r="1.25" fill="none" stroke="#66B544" stroke-width="1.0"/>
<circle cx="215.9" cy="506.1" r="1.25" fill="none" stroke="#66B544" stroke-width="1.0"/>
<circle cx="232.0" cy="476.7" r="1.25" fill="none" stroke="#66B544" stroke-width="1.0"/>
<circle cx="237.0" cy="459.0" r="1.25" fill="none" stroke="#66B544" stroke-width="1.0"/>
<circle cx="236.5" cy="463.0" r="1.25" fill="none" stroke="#66B544" stroke-width="1.0"/>
<circle cx="238.5" cy="464.0" r="1.25" fill="none" stroke="#66B544" stroke-width="1.0"/>
<circle cx="235.0" cy="465.5" r="1.25" fill="none" stroke="#66B544" stroke-width="1.0"/>
<circle cx="239.0" cy="467.0" r="1.25" fill="none" stroke="#66B544" stroke-width="1.0"/>
<circle cx="236.0" cy="469.0" r="1.25" fill="none" stroke="#66B544" stroke-width="1.0"/>
<circle cx="238.0" cy="470.0" r="1.25" fill="none" stroke="#66B544" stroke-width="1.0"/>
<circle cx="239.5" cy="471.5" r="1.25" fill="none" stroke="#66B544" stroke-width="1.0"/>
<circle cx="238.0" cy="474.0" r="1.25" fill="none" stroke="#66B544" stroke-width="1.0"/>
<circle cx="239.0" cy="478.0" r="1.25" fill="none" stroke="#66B544" stroke-width="1.0"/>
<circle cx="241.0" cy="479.0" r="1.25" fill="none" stroke="#66B544" stroke-width="1.0"/>
<circle cx="240.5" cy="481.5" r="1.25" fill="none" stroke="#66B544" stroke-width="1.0"/>
<circle cx="240.0" cy="463.0" r="1.25" fill="none" stroke="#66B544" stroke-width="1.0"/>
<circle cx="241.0" cy="468.0" r="1.25" fill="none" stroke="#66B544" stroke-width="1.0"/>
<circle cx="242.2" cy="474.0" r="1.25" fill="none" stroke="#66B544" stroke-width="1.0"/>
<circle cx="209.1" cy="457.4" r="1.25" fill="none" stroke="#9A90DA" stroke-width="1.0"/>
<circle cx="227.2" cy="462.4" r="1.25" fill="none" stroke="#9A90DA" stroke-width="1.0"/>
<circle cx="241.5" cy="463.3" r="1.25" fill="none" stroke="#9A90DA" stroke-width="1.0"/>
<circle cx="227.2" cy="468.2" r="1.25" fill="none" stroke="#9A90DA" stroke-width="1.0"/>
<circle cx="224.7" cy="473.5" r="1.25" fill="none" stroke="#9A90DA" stroke-width="1.0"/>
<circle cx="241.5" cy="469.1" r="1.25" fill="none" stroke="#9A90DA" stroke-width="1.0"/>
<circle cx="229.8" cy="479.6" r="1.25" fill="none" stroke="#9A90DA" stroke-width="1.0"/>
<circle cx="232.0" cy="483.2" r="1.25" fill="none" stroke="#9A90DA" stroke-width="1.0"/>
<circle cx="239.3" cy="486.6" r="1.25" fill="none" stroke="#9A90DA" stroke-width="1.0"/>
<circle cx="239.3" cy="496.4" r="1.25" fill="none" stroke="#9A90DA" stroke-width="1.0"/>
<circle cx="248.5" cy="497.4" r="1.25" fill="none" stroke="#9A90DA" stroke-width="1.0"/>
<circle cx="221.3" cy="504.7" r="1.25" fill="none" stroke="#9A90DA" stroke-width="1.0"/>
<circle cx="239.3" cy="504.4" r="1.25" fill="none" stroke="#9A90DA" stroke-width="1.0"/>
<circle cx="238.5" cy="506.1" r="1.25" fill="none" stroke="#9A90DA" stroke-width="1.0"/>
<circle cx="229.8" cy="478.4" r="1.25" fill="none" stroke="#9A90DA" stroke-width="1.0"/>
<circle cx="233.4" cy="473.0" r="1.25" fill="none" stroke="#52ACEE" stroke-width="1.0"/>
<circle cx="241.5" cy="472.3" r="1.25" fill="none" stroke="#52ACEE" stroke-width="1.0"/>
<circle cx="241.5" cy="480.3" r="1.25" fill="none" stroke="#52ACEE" stroke-width="1.0"/>
<circle cx="238.8" cy="456.0" r="1.25" fill="none" stroke="#BC2550" stroke-width="1.0"/>
<circle cx="239.3" cy="472.3" r="1.25" fill="none" stroke="#BC2550" stroke-width="1.0"/>
<circle cx="232.0" cy="476.4" r="1.25" fill="none" stroke="#BC2550" stroke-width="1.0"/>
<circle cx="243.6" cy="485.7" r="1.25" fill="none" stroke="#BC2550" stroke-width="1.0"/>
<circle cx="241.5" cy="465.7" r="1.25" fill="none" stroke="#BC2550" stroke-width="1.0"/>
<rect x="158.70" y="431.00" width="94.20" height="78.90" fill="none" stroke="#151515" stroke-width="1.35"/>
<line x1="155.50" y1="434.20" x2="158.70" y2="434.20" stroke="#151515" stroke-width="1"/>
<text x="152.70" y="435.95" font-size="6.8" text-anchor="end" fill="#1c1c1c">60</text>
<line x1="155.50" y1="454.40" x2="158.70" y2="454.40" stroke="#151515" stroke-width="1"/>
<text x="152.70" y="456.15" font-size="6.8" text-anchor="end" fill="#1c1c1c">50</text>
<line x1="155.50" y1="474.30" x2="158.70" y2="474.30" stroke="#151515" stroke-width="1"/>
<text x="152.70" y="476.05" font-size="6.8" text-anchor="end" fill="#1c1c1c">40</text>
<line x1="155.50" y1="494.20" x2="158.70" y2="494.20" stroke="#151515" stroke-width="1"/>
<text x="152.70" y="495.95" font-size="6.8" text-anchor="end" fill="#1c1c1c">30</text>
<line x1="177.50" y1="509.90" x2="177.50" y2="512.90" stroke="#151515" stroke-width="1"/>
<text x="177.50" y="522.00" font-size="6.8" text-anchor="middle" fill="#1c1c1c">70</text>
<line x1="201.20" y1="509.90" x2="201.20" y2="512.90" stroke="#151515" stroke-width="1"/>
<text x="201.20" y="522.00" font-size="6.8" text-anchor="middle" fill="#1c1c1c">80</text>
<line x1="225.20" y1="509.90" x2="225.20" y2="512.90" stroke="#151515" stroke-width="1"/>
<text x="225.20" y="522.00" font-size="6.8" text-anchor="middle" fill="#1c1c1c">90</text>
<line x1="248.90" y1="509.90" x2="248.90" y2="512.90" stroke="#151515" stroke-width="1"/>
<text x="248.90" y="522.00" font-size="6.8" text-anchor="middle" fill="#1c1c1c">100</text>
<text class="t" transform="translate(140.40,470.70) rotate(-90)" x="0" y="0" font-size="9.6" text-anchor="middle" fill="#1c1c1c" textLength="47.6" lengthAdjust="spacingAndGlyphs">hematocrit (%)</text>
<text class="t" x="206.50" y="534.30" font-size="9.6" text-anchor="middle" fill="#1c1c1c" textLength="68.7" lengthAdjust="spacingAndGlyphs">Oxygen saturation (%)</text>
<circle cx="290.8" cy="445.0" r="1.25" fill="none" stroke="#66B544" stroke-width="1.0"/>
<circle cx="319.3" cy="434.7" r="1.25" fill="none" stroke="#66B544" stroke-width="1.0"/>
<circle cx="325.4" cy="442.7" r="1.25" fill="none" stroke="#66B544" stroke-width="1.0"/>
<circle cx="313.4" cy="458.0" r="1.25" fill="none" stroke="#66B544" stroke-width="1.0"/>
<circle cx="323.6" cy="456.6" r="1.25" fill="none" stroke="#66B544" stroke-width="1.0"/>
<circle cx="330.2" cy="459.6" r="1.25" fill="none" stroke="#66B544" stroke-width="1.0"/>
<circle cx="346.8" cy="434.8" r="1.25" fill="none" stroke="#66B544" stroke-width="1.0"/>
<circle cx="349.3" cy="444.1" r="1.25" fill="none" stroke="#66B544" stroke-width="1.0"/>
<circle cx="338.0" cy="448.2" r="1.25" fill="none" stroke="#66B544" stroke-width="1.0"/>
<circle cx="338.8" cy="451.6" r="1.25" fill="none" stroke="#66B544" stroke-width="1.0"/>
<circle cx="351.6" cy="448.5" r="1.25" fill="none" stroke="#66B544" stroke-width="1.0"/>
<circle cx="349.7" cy="450.7" r="1.25" fill="none" stroke="#66B544" stroke-width="1.0"/>
<circle cx="355.5" cy="451.6" r="1.25" fill="none" stroke="#66B544" stroke-width="1.0"/>
<circle cx="341.7" cy="454.8" r="1.25" fill="none" stroke="#66B544" stroke-width="1.0"/>
<circle cx="344.6" cy="454.1" r="1.25" fill="none" stroke="#66B544" stroke-width="1.0"/>
<circle cx="345.3" cy="457.0" r="1.25" fill="none" stroke="#66B544" stroke-width="1.0"/>
<circle cx="335.5" cy="459.9" r="1.25" fill="none" stroke="#66B544" stroke-width="1.0"/>
<circle cx="337.0" cy="460.6" r="1.25" fill="none" stroke="#66B544" stroke-width="1.0"/>
<circle cx="340.2" cy="459.9" r="1.25" fill="none" stroke="#66B544" stroke-width="1.0"/>
<circle cx="343.4" cy="458.4" r="1.25" fill="none" stroke="#66B544" stroke-width="1.0"/>
<circle cx="348.2" cy="459.9" r="1.25" fill="none" stroke="#66B544" stroke-width="1.0"/>
<circle cx="351.1" cy="457.0" r="1.25" fill="none" stroke="#66B544" stroke-width="1.0"/>
<circle cx="353.3" cy="457.7" r="1.25" fill="none" stroke="#66B544" stroke-width="1.0"/>
<circle cx="354.0" cy="456.2" r="1.25" fill="none" stroke="#66B544" stroke-width="1.0"/>
<circle cx="356.5" cy="458.9" r="1.25" fill="none" stroke="#66B544" stroke-width="1.0"/>
<circle cx="360.3" cy="456.0" r="1.25" fill="none" stroke="#66B544" stroke-width="1.0"/>
<circle cx="360.6" cy="458.4" r="1.25" fill="none" stroke="#66B544" stroke-width="1.0"/>
<circle cx="362.8" cy="457.7" r="1.25" fill="none" stroke="#66B544" stroke-width="1.0"/>
<circle cx="343.4" cy="463.8" r="1.25" fill="none" stroke="#66B544" stroke-width="1.0"/>
<circle cx="349.7" cy="463.3" r="1.25" fill="none" stroke="#66B544" stroke-width="1.0"/>
<circle cx="350.4" cy="465.3" r="1.25" fill="none" stroke="#66B544" stroke-width="1.0"/>
<circle cx="353.3" cy="465.0" r="1.25" fill="none" stroke="#66B544" stroke-width="1.0"/>
<circle cx="357.0" cy="464.3" r="1.25" fill="none" stroke="#66B544" stroke-width="1.0"/>
<circle cx="357.0" cy="467.6" r="1.25" fill="none" stroke="#66B544" stroke-width="1.0"/>
<circle cx="349.0" cy="466.5" r="1.25" fill="none" stroke="#66B544" stroke-width="1.0"/>
<circle cx="359.9" cy="461.4" r="1.25" fill="none" stroke="#66B544" stroke-width="1.0"/>
<circle cx="361.4" cy="465.0" r="1.25" fill="none" stroke="#66B544" stroke-width="1.0"/>
<circle cx="363.3" cy="463.5" r="1.25" fill="none" stroke="#66B544" stroke-width="1.0"/>
<circle cx="364.7" cy="461.4" r="1.25" fill="none" stroke="#66B544" stroke-width="1.0"/>
<circle cx="365.7" cy="465.7" r="1.25" fill="none" stroke="#66B544" stroke-width="1.0"/>
<circle cx="363.3" cy="467.9" r="1.25" fill="none" stroke="#66B544" stroke-width="1.0"/>
<circle cx="365.0" cy="470.1" r="1.25" fill="none" stroke="#66B544" stroke-width="1.0"/>
<circle cx="367.2" cy="469.1" r="1.25" fill="none" stroke="#66B544" stroke-width="1.0"/>
<circle cx="369.1" cy="470.8" r="1.25" fill="none" stroke="#66B544" stroke-width="1.0"/>
<circle cx="372.3" cy="469.4" r="1.25" fill="none" stroke="#66B544" stroke-width="1.0"/>
<circle cx="372.3" cy="471.6" r="1.25" fill="none" stroke="#66B544" stroke-width="1.0"/>
<circle cx="370.5" cy="460.9" r="1.25" fill="none" stroke="#66B544" stroke-width="1.0"/>
<circle cx="367.2" cy="472.3" r="1.25" fill="none" stroke="#66B544" stroke-width="1.0"/>
<circle cx="342.4" cy="468.6" r="1.25" fill="none" stroke="#66B544" stroke-width="1.0"/>
<circle cx="343.1" cy="470.8" r="1.25" fill="none" stroke="#66B544" stroke-width="1.0"/>
<circle cx="344.6" cy="473.0" r="1.25" fill="none" stroke="#66B544" stroke-width="1.0"/>
<circle cx="345.3" cy="474.5" r="1.25" fill="none" stroke="#66B544" stroke-width="1.0"/>
<circle cx="349.7" cy="475.5" r="1.25" fill="none" stroke="#66B544" stroke-width="1.0"/>
<circle cx="363.5" cy="474.5" r="1.25" fill="none" stroke="#66B544" stroke-width="1.0"/>
<circle cx="365.7" cy="473.8" r="1.25" fill="none" stroke="#66B544" stroke-width="1.0"/>
<circle cx="367.2" cy="475.9" r="1.25" fill="none" stroke="#66B544" stroke-width="1.0"/>
<circle cx="370.8" cy="475.2" r="1.25" fill="none" stroke="#66B544" stroke-width="1.0"/>
<circle cx="373.7" cy="477.4" r="1.25" fill="none" stroke="#66B544" stroke-width="1.0"/>
<circle cx="363.3" cy="479.3" r="1.25" fill="none" stroke="#66B544" stroke-width="1.0"/>
<circle cx="365.0" cy="480.3" r="1.25" fill="none" stroke="#66B544" stroke-width="1.0"/>
<circle cx="367.9" cy="481.3" r="1.25" fill="none" stroke="#66B544" stroke-width="1.0"/>
<circle cx="367.6" cy="484.7" r="1.25" fill="none" stroke="#66B544" stroke-width="1.0"/>
<circle cx="351.6" cy="486.1" r="1.25" fill="none" stroke="#66B544" stroke-width="1.0"/>
<circle cx="372.3" cy="487.6" r="1.25" fill="none" stroke="#66B544" stroke-width="1.0"/>
<circle cx="335.5" cy="493.4" r="1.25" fill="none" stroke="#66B544" stroke-width="1.0"/>
<circle cx="363.3" cy="495.6" r="1.25" fill="none" stroke="#66B544" stroke-width="1.0"/>
<circle cx="365.7" cy="496.4" r="1.25" fill="none" stroke="#66B544" stroke-width="1.0"/>
<circle cx="370.1" cy="494.2" r="1.25" fill="none" stroke="#66B544" stroke-width="1.0"/>
<circle cx="370.1" cy="497.4" r="1.25" fill="none" stroke="#66B544" stroke-width="1.0"/>
<circle cx="360.6" cy="501.5" r="1.25" fill="none" stroke="#66B544" stroke-width="1.0"/>
<circle cx="365.7" cy="454.8" r="1.25" fill="none" stroke="#66B544" stroke-width="1.0"/>
<circle cx="362.0" cy="457.0" r="1.25" fill="none" stroke="#66B544" stroke-width="1.0"/>
<circle cx="364.0" cy="459.0" r="1.25" fill="none" stroke="#66B544" stroke-width="1.0"/>
<circle cx="361.0" cy="461.0" r="1.25" fill="none" stroke="#66B544" stroke-width="1.0"/>
<circle cx="363.0" cy="462.0" r="1.25" fill="none" stroke="#66B544" stroke-width="1.0"/>
<circle cx="365.0" cy="463.5" r="1.25" fill="none" stroke="#66B544" stroke-width="1.0"/>
<circle cx="362.5" cy="465.0" r="1.25" fill="none" stroke="#66B544" stroke-width="1.0"/>
<circle cx="364.5" cy="466.5" r="1.25" fill="none" stroke="#66B544" stroke-width="1.0"/>
<circle cx="366.0" cy="468.0" r="1.25" fill="none" stroke="#66B544" stroke-width="1.0"/>
<circle cx="363.0" cy="469.0" r="1.25" fill="none" stroke="#66B544" stroke-width="1.0"/>
<circle cx="364.0" cy="473.0" r="1.25" fill="none" stroke="#66B544" stroke-width="1.0"/>
<circle cx="363.5" cy="476.0" r="1.25" fill="none" stroke="#66B544" stroke-width="1.0"/>
<circle cx="365.5" cy="477.5" r="1.25" fill="none" stroke="#66B544" stroke-width="1.0"/>
<circle cx="367.5" cy="479.0" r="1.25" fill="none" stroke="#66B544" stroke-width="1.0"/>
<circle cx="366.5" cy="483.0" r="1.25" fill="none" stroke="#66B544" stroke-width="1.0"/>
<circle cx="360.0" cy="463.0" r="1.25" fill="none" stroke="#66B544" stroke-width="1.0"/>
<circle cx="361.0" cy="467.0" r="1.25" fill="none" stroke="#66B544" stroke-width="1.0"/>
<circle cx="368.5" cy="466.0" r="1.25" fill="none" stroke="#66B544" stroke-width="1.0"/>
<circle cx="370.0" cy="474.0" r="1.25" fill="none" stroke="#66B544" stroke-width="1.0"/>
<circle cx="336.6" cy="457.4" r="1.25" fill="none" stroke="#9A90DA" stroke-width="1.0"/>
<circle cx="353.6" cy="458.9" r="1.25" fill="none" stroke="#9A90DA" stroke-width="1.0"/>
<circle cx="360.6" cy="469.1" r="1.25" fill="none" stroke="#9A90DA" stroke-width="1.0"/>
<circle cx="351.6" cy="470.8" r="1.25" fill="none" stroke="#9A90DA" stroke-width="1.0"/>
<circle cx="356.5" cy="480.3" r="1.25" fill="none" stroke="#9A90DA" stroke-width="1.0"/>
<circle cx="357.7" cy="483.7" r="1.25" fill="none" stroke="#9A90DA" stroke-width="1.0"/>
<circle cx="365.0" cy="484.7" r="1.25" fill="none" stroke="#9A90DA" stroke-width="1.0"/>
<circle cx="365.3" cy="494.2" r="1.25" fill="none" stroke="#9A90DA" stroke-width="1.0"/>
<circle cx="365.3" cy="498.8" r="1.25" fill="none" stroke="#9A90DA" stroke-width="1.0"/>
<circle cx="374.9" cy="496.4" r="1.25" fill="none" stroke="#9A90DA" stroke-width="1.0"/>
<circle cx="348.2" cy="501.0" r="1.25" fill="none" stroke="#9A90DA" stroke-width="1.0"/>
<circle cx="364.7" cy="506.1" r="1.25" fill="none" stroke="#9A90DA" stroke-width="1.0"/>
<circle cx="367.6" cy="460.3" r="1.25" fill="none" stroke="#52ACEE" stroke-width="1.0"/>
<circle cx="359.9" cy="473.0" r="1.25" fill="none" stroke="#52ACEE" stroke-width="1.0"/>
<circle cx="368.2" cy="477.8" r="1.25" fill="none" stroke="#52ACEE" stroke-width="1.0"/>
<circle cx="365.0" cy="455.1" r="1.25" fill="none" stroke="#BC2550" stroke-width="1.0"/>
<circle cx="368.2" cy="465.0" r="1.25" fill="none" stroke="#BC2550" stroke-width="1.0"/>
<circle cx="358.4" cy="473.5" r="1.25" fill="none" stroke="#BC2550" stroke-width="1.0"/>
<circle cx="367.6" cy="475.2" r="1.25" fill="none" stroke="#BC2550" stroke-width="1.0"/>
<circle cx="369.1" cy="478.9" r="1.25" fill="none" stroke="#BC2550" stroke-width="1.0"/>
<circle cx="367.6" cy="478.1" r="1.25" fill="none" stroke="#BC2550" stroke-width="1.0"/>
<rect x="286.90" y="430.90" width="92.00" height="78.70" fill="none" stroke="#151515" stroke-width="1.35"/>
<line x1="283.70" y1="436.10" x2="286.90" y2="436.10" stroke="#151515" stroke-width="1"/>
<text x="280.90" y="437.85" font-size="6.8" text-anchor="end" fill="#1c1c1c">20</text>
<line x1="283.70" y1="461.40" x2="286.90" y2="461.40" stroke="#151515" stroke-width="1"/>
<text x="280.90" y="463.15" font-size="6.8" text-anchor="end" fill="#1c1c1c">15</text>
<line x1="283.70" y1="486.50" x2="286.90" y2="486.50" stroke="#151515" stroke-width="1"/>
<text x="280.90" y="488.25" font-size="6.8" text-anchor="end" fill="#1c1c1c">10</text>
<line x1="305.50" y1="509.60" x2="305.50" y2="512.60" stroke="#151515" stroke-width="1"/>
<text x="305.50" y="522.00" font-size="6.8" text-anchor="middle" fill="#1c1c1c">70</text>
<line x1="328.60" y1="509.60" x2="328.60" y2="512.60" stroke="#151515" stroke-width="1"/>
<text x="328.60" y="522.00" font-size="6.8" text-anchor="middle" fill="#1c1c1c">80</text>
<line x1="351.60" y1="509.60" x2="351.60" y2="512.60" stroke="#151515" stroke-width="1"/>
<text x="351.60" y="522.00" font-size="6.8" text-anchor="middle" fill="#1c1c1c">90</text>
<line x1="374.70" y1="509.60" x2="374.70" y2="512.60" stroke="#151515" stroke-width="1"/>
<text x="374.70" y="522.00" font-size="6.8" text-anchor="middle" fill="#1c1c1c">100</text>
<text class="t" transform="translate(268.30,470.50) rotate(-90)" x="0" y="0" font-size="9.6" text-anchor="middle" fill="#1c1c1c" textLength="107.8" lengthAdjust="spacingAndGlyphs">hemoglobin concentration (g(dl)<tspan font-size="6.2" dy="-3.4" dx="0.7">-1</tspan><tspan dy="3.4" dx="0.5">)</tspan></text>
<text class="t" x="333.50" y="534.30" font-size="9.6" text-anchor="middle" fill="#1c1c1c" textLength="68.7" lengthAdjust="spacingAndGlyphs">Oxygen saturation (%)</text>
<text class="t" transform="translate(384.0,457.6) rotate(90)" x="0" y="0" font-size="8.3" text-anchor="start" fill="#383838" textLength="25.2" lengthAdjust="spacingAndGlyphs">Females</text>
<circle cx="117.3" cy="545.2" r="1.25" fill="none" stroke="#BC2550" stroke-width="0.9"/>
<text x="121.50" y="547.10" font-size="6.7" text-anchor="start" fill="#1c1c1c" textLength="62.5" lengthAdjust="spacingAndGlyphs">PAVM=N; Bleeder=N</text>
<circle cx="192.1" cy="545.2" r="1.25" fill="none" stroke="#66B544" stroke-width="0.9"/>
<text x="196.40" y="547.10" font-size="6.7" text-anchor="start" fill="#1c1c1c" textLength="61.4" lengthAdjust="spacingAndGlyphs">PAVM=Y; Bleeder=N</text>
<circle cx="264.3" cy="545.2" r="1.25" fill="none" stroke="#52ACEE" stroke-width="0.9"/>
<text x="268.60" y="547.10" font-size="6.7" text-anchor="start" fill="#1c1c1c" textLength="63.4" lengthAdjust="spacingAndGlyphs">PAVM=N; Bleeder=Y</text>
<circle cx="338.7" cy="545.2" r="1.25" fill="none" stroke="#9A90DA" stroke-width="0.9"/>
<text x="343.10" y="547.10" font-size="6.7" text-anchor="start" fill="#1c1c1c" textLength="60.4" lengthAdjust="spacingAndGlyphs">PAVM=Y; Bleeder=Y</text>
<rect x="459.10" y="102.68" width="2.50" height="4.02" fill="#2F5F47" stroke="#ffffff" stroke-width="0.5" stroke-opacity="0.3"/>
<rect x="475.30" y="94.64" width="2.80" height="12.06" fill="#2F5F47" stroke="#ffffff" stroke-width="0.5" stroke-opacity="0.3"/>
<rect x="481.00" y="94.64" width="2.70" height="12.06" fill="#2F5F47" stroke="#ffffff" stroke-width="0.5" stroke-opacity="0.3"/>
<rect x="489.10" y="98.66" width="2.90" height="8.04" fill="#2F5F47" stroke="#ffffff" stroke-width="0.5" stroke-opacity="0.3"/>
<rect x="492.00" y="98.66" width="2.90" height="8.04" fill="#2F5F47" stroke="#ffffff" stroke-width="0.5" stroke-opacity="0.3"/>
<rect x="494.90" y="66.50" width="2.70" height="40.20" fill="#2F5F47" stroke="#ffffff" stroke-width="0.5" stroke-opacity="0.3"/>
<rect x="497.60" y="42.38" width="2.70" height="64.32" fill="#2F5F47" stroke="#ffffff" stroke-width="0.5" stroke-opacity="0.3"/>
<rect x="500.30" y="34.34" width="2.70" height="72.36" fill="#2F5F47" stroke="#ffffff" stroke-width="0.5" stroke-opacity="0.3"/>
<rect x="503.00" y="98.66" width="2.70" height="8.04" fill="#2F5F47" stroke="#ffffff" stroke-width="0.5" stroke-opacity="0.3"/>
<rect x="423.10" y="30.60" width="87.90" height="79.20" fill="none" stroke="#151515" stroke-width="1.35"/>
<line x1="419.80" y1="46.10" x2="423.00" y2="46.10" stroke="#151515" stroke-width="1"/>
<text x="417.00" y="47.85" font-size="6.8" text-anchor="end" fill="#1c1c1c">15</text>
<line x1="419.80" y1="66.20" x2="423.00" y2="66.20" stroke="#151515" stroke-width="1"/>
<text x="417.00" y="67.95" font-size="6.8" text-anchor="end" fill="#1c1c1c">10</text>
<line x1="419.80" y1="86.40" x2="423.00" y2="86.40" stroke="#151515" stroke-width="1"/>
<text x="417.00" y="88.15" font-size="6.8" text-anchor="end" fill="#1c1c1c">5</text>
<line x1="419.80" y1="106.50" x2="423.00" y2="106.50" stroke="#151515" stroke-width="1"/>
<text x="417.00" y="108.25" font-size="6.8" text-anchor="end" fill="#1c1c1c">0</text>
<line x1="441.10" y1="109.80" x2="441.10" y2="112.80" stroke="#151515" stroke-width="1"/>
<text x="441.10" y="121.00" font-size="6.8" text-anchor="middle" fill="#1c1c1c">70</text>
<line x1="463.00" y1="109.80" x2="463.00" y2="112.80" stroke="#151515" stroke-width="1"/>
<text x="463.00" y="121.00" font-size="6.8" text-anchor="middle" fill="#1c1c1c">80</text>
<line x1="485.00" y1="109.80" x2="485.00" y2="112.80" stroke="#151515" stroke-width="1"/>
<text x="485.00" y="121.00" font-size="6.8" text-anchor="middle" fill="#1c1c1c">90</text>
<line x1="507.10" y1="109.80" x2="507.10" y2="112.80" stroke="#151515" stroke-width="1"/>
<text x="507.10" y="121.00" font-size="6.8" text-anchor="middle" fill="#1c1c1c">100</text>
<text class="t" x="466.80" y="26.30" font-size="7.0" font-style="italic" text-anchor="middle" fill="#1c1c1c" textLength="24.5" lengthAdjust="spacingAndGlyphs">ACVRL1</text>
<text class="t" transform="translate(403.90,70.20) rotate(-90)" x="0" y="0" font-size="9.8" text-anchor="middle" fill="#1c1c1c" textLength="18.4" lengthAdjust="spacingAndGlyphs">Count</text>
<text class="t" x="466.00" y="134.00" font-size="9.6" text-anchor="middle" fill="#1c1c1c" textLength="68.7" lengthAdjust="spacingAndGlyphs">Oxygen saturation (%)</text>
<rect x="448.10" y="224.54" width="2.30" height="1.66" fill="#2F5F47" stroke="#ffffff" stroke-width="0.5" stroke-opacity="0.3"/>
<rect x="453.80" y="224.54" width="2.30" height="1.66" fill="#2F5F47" stroke="#ffffff" stroke-width="0.5" stroke-opacity="0.3"/>
<rect x="456.10" y="224.54" width="2.30" height="1.66" fill="#2F5F47" stroke="#ffffff" stroke-width="0.5" stroke-opacity="0.3"/>
<rect x="458.40" y="224.54" width="2.30" height="1.66" fill="#2F5F47" stroke="#ffffff" stroke-width="0.5" stroke-opacity="0.3"/>
<rect x="461.30" y="222.88" width="2.70" height="3.32" fill="#2F5F47" stroke="#ffffff" stroke-width="0.5" stroke-opacity="0.3"/>
<rect x="467.20" y="217.90" width="2.60" height="8.30" fill="#2F5F47" stroke="#ffffff" stroke-width="0.5" stroke-opacity="0.3"/>
<rect x="469.80" y="217.90" width="2.60" height="8.30" fill="#2F5F47" stroke="#ffffff" stroke-width="0.5" stroke-opacity="0.3"/>
<rect x="472.40" y="222.88" width="2.80" height="3.32" fill="#2F5F47" stroke="#ffffff" stroke-width="0.5" stroke-opacity="0.3"/>
<rect x="475.20" y="217.90" width="2.80" height="8.30" fill="#2F5F47" stroke="#ffffff" stroke-width="0.5" stroke-opacity="0.3"/>
<rect x="478.00" y="214.58" width="2.60" height="11.62" fill="#2F5F47" stroke="#ffffff" stroke-width="0.5" stroke-opacity="0.3"/>
<rect x="480.60" y="211.26" width="2.80" height="14.94" fill="#2F5F47" stroke="#ffffff" stroke-width="0.5" stroke-opacity="0.3"/>
<rect x="483.40" y="214.58" width="2.80" height="11.62" fill="#2F5F47" stroke="#ffffff" stroke-width="0.5" stroke-opacity="0.3"/>
<rect x="486.20" y="212.92" width="2.80" height="13.28" fill="#2F5F47" stroke="#ffffff" stroke-width="0.5" stroke-opacity="0.3"/>
<rect x="489.00" y="194.66" width="2.80" height="31.54" fill="#2F5F47" stroke="#ffffff" stroke-width="0.5" stroke-opacity="0.3"/>
<rect x="491.80" y="204.62" width="2.90" height="21.58" fill="#2F5F47" stroke="#ffffff" stroke-width="0.5" stroke-opacity="0.3"/>
<rect x="494.70" y="191.34" width="2.80" height="34.86" fill="#2F5F47" stroke="#ffffff" stroke-width="0.5" stroke-opacity="0.3"/>
<rect x="497.50" y="153.16" width="2.80" height="73.04" fill="#2F5F47" stroke="#ffffff" stroke-width="0.5" stroke-opacity="0.3"/>
<rect x="500.30" y="188.02" width="2.80" height="38.18" fill="#2F5F47" stroke="#ffffff" stroke-width="0.5" stroke-opacity="0.3"/>
<rect x="503.10" y="219.56" width="2.60" height="6.64" fill="#2F5F47" stroke="#ffffff" stroke-width="0.5" stroke-opacity="0.3"/>
<rect x="422.90" y="149.90" width="88.10" height="79.60" fill="none" stroke="#151515" stroke-width="1.35"/>
<line x1="419.70" y1="159.60" x2="422.90" y2="159.60" stroke="#151515" stroke-width="1"/>
<text x="416.90" y="161.35" font-size="6.8" text-anchor="end" fill="#1c1c1c">40</text>
<line x1="419.70" y1="176.50" x2="422.90" y2="176.50" stroke="#151515" stroke-width="1"/>
<text x="416.90" y="178.25" font-size="6.8" text-anchor="end" fill="#1c1c1c">30</text>
<line x1="419.70" y1="193.00" x2="422.90" y2="193.00" stroke="#151515" stroke-width="1"/>
<text x="416.90" y="194.75" font-size="6.8" text-anchor="end" fill="#1c1c1c">20</text>
<line x1="419.70" y1="209.70" x2="422.90" y2="209.70" stroke="#151515" stroke-width="1"/>
<text x="416.90" y="211.45" font-size="6.8" text-anchor="end" fill="#1c1c1c">10</text>
<line x1="419.70" y1="226.10" x2="422.90" y2="226.10" stroke="#151515" stroke-width="1"/>
<text x="416.90" y="227.85" font-size="6.8" text-anchor="end" fill="#1c1c1c">0</text>
<line x1="440.60" y1="229.50" x2="440.60" y2="232.50" stroke="#151515" stroke-width="1"/>
<text x="440.60" y="241.00" font-size="6.8" text-anchor="middle" fill="#1c1c1c">70</text>
<line x1="462.70" y1="229.50" x2="462.70" y2="232.50" stroke="#151515" stroke-width="1"/>
<text x="462.70" y="241.00" font-size="6.8" text-anchor="middle" fill="#1c1c1c">80</text>
<line x1="485.50" y1="229.50" x2="485.50" y2="232.50" stroke="#151515" stroke-width="1"/>
<text x="485.50" y="241.00" font-size="6.8" text-anchor="middle" fill="#1c1c1c">90</text>
<line x1="508.40" y1="229.50" x2="508.40" y2="232.50" stroke="#151515" stroke-width="1"/>
<text x="508.40" y="241.00" font-size="6.8" text-anchor="middle" fill="#1c1c1c">100</text>
<text class="t" x="467.50" y="145.20" font-size="7.0" font-style="italic" text-anchor="middle" fill="#1c1c1c" textLength="13.5" lengthAdjust="spacingAndGlyphs">ENG</text>
<text class="t" transform="translate(403.90,190.10) rotate(-90)" x="0" y="0" font-size="9.8" text-anchor="middle" fill="#1c1c1c" textLength="18.0" lengthAdjust="spacingAndGlyphs">Count</text>
<text class="t" x="466.70" y="254.00" font-size="9.6" text-anchor="middle" fill="#1c1c1c" textLength="68.7" lengthAdjust="spacingAndGlyphs">Oxygen saturation (%)</text>
<rect x="428.80" y="360.90" width="10.00" height="21.10" fill="#3A6850" stroke="#245A3E" stroke-width="0.6"/>
<rect x="440.70" y="356.62" width="9.50" height="25.38" fill="#3A6850" stroke="#245A3E" stroke-width="0.6"/>
<rect x="452.00" y="348.06" width="10.00" height="33.94" fill="#3A6850" stroke="#245A3E" stroke-width="0.6"/>
<rect x="463.90" y="343.78" width="9.70" height="38.22" fill="#3A6850" stroke="#245A3E" stroke-width="0.6"/>
<rect x="475.40" y="309.54" width="10.00" height="72.46" fill="#3A6850" stroke="#245A3E" stroke-width="0.6"/>
<rect x="487.00" y="335.22" width="10.00" height="46.78" fill="#3A6850" stroke="#245A3E" stroke-width="0.6"/>
<rect x="498.90" y="378.02" width="9.70" height="3.98" fill="#3A6850" stroke="#245A3E" stroke-width="0.6"/>
<rect x="424.90" y="306.00" width="88.20" height="79.80" fill="none" stroke="#151515" stroke-width="1.35"/>
<line x1="421.70" y1="317.80" x2="424.90" y2="317.80" stroke="#151515" stroke-width="1"/>
<text x="418.90" y="319.55" font-size="6.8" text-anchor="end" fill="#1c1c1c">15</text>
<line x1="421.70" y1="339.20" x2="424.90" y2="339.20" stroke="#151515" stroke-width="1"/>
<text x="418.90" y="340.95" font-size="6.8" text-anchor="end" fill="#1c1c1c">10</text>
<line x1="421.70" y1="360.60" x2="424.90" y2="360.60" stroke="#151515" stroke-width="1"/>
<text x="418.90" y="362.35" font-size="6.8" text-anchor="end" fill="#1c1c1c">5</text>
<line x1="421.70" y1="382.00" x2="424.90" y2="382.00" stroke="#151515" stroke-width="1"/>
<text x="418.90" y="383.75" font-size="6.8" text-anchor="end" fill="#1c1c1c">0</text>
<line x1="433.80" y1="385.80" x2="433.80" y2="388.80" stroke="#151515" stroke-width="1"/>
<text x="433.80" y="397.80" font-size="6.8" text-anchor="middle" fill="#1c1c1c">0</text>
<line x1="457.00" y1="385.80" x2="457.00" y2="388.80" stroke="#151515" stroke-width="1"/>
<text x="457.00" y="397.80" font-size="6.8" text-anchor="middle" fill="#1c1c1c">2</text>
<line x1="480.40" y1="385.80" x2="480.40" y2="388.80" stroke="#151515" stroke-width="1"/>
<text x="480.40" y="397.80" font-size="6.8" text-anchor="middle" fill="#1c1c1c">4</text>
<line x1="503.80" y1="385.80" x2="503.80" y2="388.80" stroke="#151515" stroke-width="1"/>
<text x="503.80" y="397.80" font-size="6.8" text-anchor="middle" fill="#1c1c1c">6</text>
<text class="t" x="468.80" y="301.30" font-size="7.0" font-style="italic" text-anchor="middle" fill="#1c1c1c" textLength="24.5" lengthAdjust="spacingAndGlyphs">ACVRL1</text>
<text class="t" transform="translate(405.90,345.60) rotate(-90)" x="0" y="0" font-size="9.8" text-anchor="middle" fill="#1c1c1c" textLength="18.0" lengthAdjust="spacingAndGlyphs">Count</text>
<text class="t" x="468.60" y="409.50" font-size="9.6" text-anchor="middle" fill="#1c1c1c" textLength="46.0" lengthAdjust="spacingAndGlyphs">Bleeding score</text>
<rect x="428.80" y="495.23" width="10.00" height="10.97" fill="#3A6850" stroke="#245A3E" stroke-width="0.6"/>
<rect x="440.70" y="466.25" width="9.50" height="39.95" fill="#3A6850" stroke="#245A3E" stroke-width="0.6"/>
<rect x="452.00" y="434.05" width="10.00" height="72.15" fill="#3A6850" stroke="#245A3E" stroke-width="0.6"/>
<rect x="463.90" y="437.27" width="9.70" height="68.93" fill="#3A6850" stroke="#245A3E" stroke-width="0.6"/>
<rect x="475.40" y="454.98" width="10.00" height="51.22" fill="#3A6850" stroke="#245A3E" stroke-width="0.6"/>
<rect x="487.00" y="477.52" width="10.00" height="28.68" fill="#3A6850" stroke="#245A3E" stroke-width="0.6"/>
<rect x="498.90" y="488.79" width="9.70" height="17.41" fill="#3A6850" stroke="#245A3E" stroke-width="0.6"/>
<rect x="424.90" y="430.20" width="88.20" height="80.10" fill="none" stroke="#151515" stroke-width="1.35"/>
<line x1="421.70" y1="441.70" x2="424.90" y2="441.70" stroke="#151515" stroke-width="1"/>
<text x="418.90" y="443.45" font-size="6.8" text-anchor="end" fill="#1c1c1c">40</text>
<line x1="421.70" y1="457.90" x2="424.90" y2="457.90" stroke="#151515" stroke-width="1"/>
<text x="418.90" y="459.65" font-size="6.8" text-anchor="end" fill="#1c1c1c">30</text>
<line x1="421.70" y1="474.00" x2="424.90" y2="474.00" stroke="#151515" stroke-width="1"/>
<text x="418.90" y="475.75" font-size="6.8" text-anchor="end" fill="#1c1c1c">20</text>
<line x1="421.70" y1="490.10" x2="424.90" y2="490.10" stroke="#151515" stroke-width="1"/>
<text x="418.90" y="491.85" font-size="6.8" text-anchor="end" fill="#1c1c1c">10</text>
<line x1="421.70" y1="506.20" x2="424.90" y2="506.20" stroke="#151515" stroke-width="1"/>
<text x="418.90" y="507.95" font-size="6.8" text-anchor="end" fill="#1c1c1c">0</text>
<line x1="433.80" y1="510.30" x2="433.80" y2="513.30" stroke="#151515" stroke-width="1"/>
<text x="433.80" y="522.20" font-size="6.8" text-anchor="middle" fill="#1c1c1c">0</text>
<line x1="457.00" y1="510.30" x2="457.00" y2="513.30" stroke="#151515" stroke-width="1"/>
<text x="457.00" y="522.20" font-size="6.8" text-anchor="middle" fill="#1c1c1c">2</text>
<line x1="480.40" y1="510.30" x2="480.40" y2="513.30" stroke="#151515" stroke-width="1"/>
<text x="480.40" y="522.20" font-size="6.8" text-anchor="middle" fill="#1c1c1c">4</text>
<line x1="503.80" y1="510.30" x2="503.80" y2="513.30" stroke="#151515" stroke-width="1"/>
<text x="503.80" y="522.20" font-size="6.8" text-anchor="middle" fill="#1c1c1c">6</text>
<text class="t" x="468.60" y="425.50" font-size="7.0" font-style="italic" text-anchor="middle" fill="#1c1c1c" textLength="13.5" lengthAdjust="spacingAndGlyphs">ENG</text>
<text class="t" transform="translate(405.90,470.50) rotate(-90)" x="0" y="0" font-size="9.8" text-anchor="middle" fill="#1c1c1c" textLength="18.0" lengthAdjust="spacingAndGlyphs">Count</text>
<text class="t" x="468.60" y="534.50" font-size="9.6" text-anchor="middle" fill="#1c1c1c" textLength="46.0" lengthAdjust="spacingAndGlyphs">Bleeding score</text>
<rect x="0.5" y="0.5" width="519" height="555" fill="none" stroke="#000" stroke-width="1.1"/>
</svg></body></html>
